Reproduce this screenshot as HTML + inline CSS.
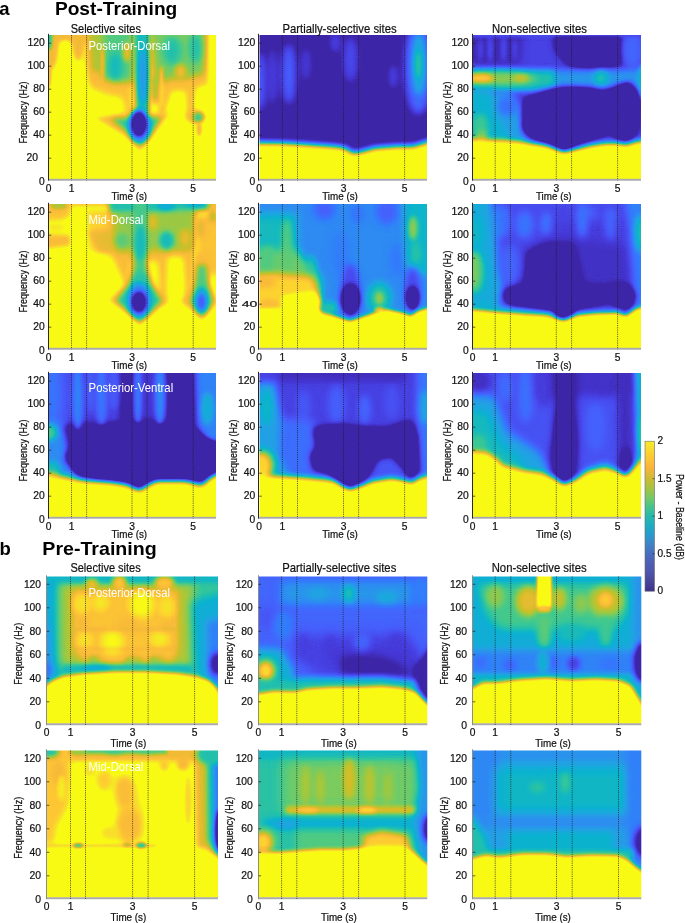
<!DOCTYPE html><html><head><meta charset="utf-8"><title>Figure</title>
<style>html,body{margin:0;padding:0;background:#fff}svg{display:block}text{font-family:"Liberation Sans",sans-serif;fill:#111;stroke:#111;stroke-width:0.22px}</style></head><body>
<svg width="685" height="923" viewBox="0 0 685 923">
<defs>
<filter id="cm" color-interpolation-filters="sRGB" filterUnits="userSpaceOnUse" x="0" y="0" width="685" height="923"><feComponentTransfer><feFuncR type="table" tableValues="0.243 0.243 0.243 0.243 0.243 0.243 0.243 0.243 0.243 0.243 0.243 0.243 0.243 0.243 0.243 0.243 0.243 0.257 0.271 0.276 0.282 0.276 0.271 0.235 0.200 0.186 0.173 0.149 0.125 0.082 0.039 0.084 0.129 0.194 0.259 0.351 0.443 0.545 0.647 0.735 0.824 0.902 0.980 0.988 0.996 0.978 0.961 0.969 0.976 0.976 0.976 0.976 0.976 0.976 0.976 0.976 0.976 0.976 0.976 0.976 0.976 0.976 0.976 0.976 0.976"/><feFuncG type="table" tableValues="0.149 0.149 0.149 0.149 0.149 0.149 0.149 0.149 0.149 0.149 0.149 0.149 0.149 0.149 0.149 0.149 0.149 0.182 0.216 0.257 0.298 0.341 0.384 0.431 0.478 0.522 0.565 0.604 0.643 0.671 0.698 0.725 0.753 0.771 0.788 0.794 0.800 0.792 0.784 0.765 0.745 0.737 0.729 0.776 0.824 0.867 0.910 0.947 0.984 0.984 0.984 0.984 0.984 0.984 0.984 0.984 0.984 0.984 0.984 0.984 0.984 0.984 0.984 0.984 0.984"/><feFuncB type="table" tableValues="0.659 0.659 0.659 0.659 0.659 0.659 0.659 0.659 0.659 0.659 0.659 0.659 0.659 0.659 0.659 0.659 0.659 0.747 0.835 0.888 0.941 0.965 0.988 0.990 0.992 0.965 0.937 0.914 0.890 0.851 0.812 0.749 0.686 0.622 0.557 0.480 0.404 0.320 0.235 0.196 0.157 0.192 0.227 0.206 0.184 0.167 0.149 0.116 0.082 0.082 0.082 0.082 0.082 0.082 0.082 0.082 0.082 0.082 0.082 0.082 0.082 0.082 0.082 0.082 0.082"/></feComponentTransfer></filter>
<linearGradient id="cb" x1="0" y1="0" x2="0" y2="1"><stop offset="0" stop-color="rgb(245,236,45)"/><stop offset="0.0625" stop-color="rgb(250,215,45)"/><stop offset="0.125" stop-color="rgb(252,195,55)"/><stop offset="0.175" stop-color="rgb(250,180,58)"/><stop offset="0.25" stop-color="rgb(205,187,50)"/><stop offset="0.3125" stop-color="rgb(165,195,65)"/><stop offset="0.375" stop-color="rgb(120,200,100)"/><stop offset="0.4375" stop-color="rgb(70,195,140)"/><stop offset="0.5" stop-color="rgb(40,185,170)"/><stop offset="0.5625" stop-color="rgb(30,172,195)"/><stop offset="0.625" stop-color="rgb(40,155,205)"/><stop offset="0.6875" stop-color="rgb(65,130,198)"/><stop offset="0.75" stop-color="rgb(72,110,190)"/><stop offset="0.8125" stop-color="rgb(78,95,180)"/><stop offset="0.875" stop-color="rgb(78,85,170)"/><stop offset="0.9375" stop-color="rgb(72,68,155)"/><stop offset="1" stop-color="rgb(62,50,140)"/></linearGradient>
<filter id="b6" x="-100%" y="-100%" width="300%" height="300%" color-interpolation-filters="sRGB"><feGaussianBlur stdDeviation="6"/></filter>
<filter id="b7" x="-100%" y="-100%" width="300%" height="300%" color-interpolation-filters="sRGB"><feGaussianBlur stdDeviation="7"/></filter>
<filter id="b8" x="-100%" y="-100%" width="300%" height="300%" color-interpolation-filters="sRGB"><feGaussianBlur stdDeviation="8"/></filter>
<filter id="b9" x="-100%" y="-100%" width="300%" height="300%" color-interpolation-filters="sRGB"><feGaussianBlur stdDeviation="9"/></filter>
<filter id="b10" x="-100%" y="-100%" width="300%" height="300%" color-interpolation-filters="sRGB"><feGaussianBlur stdDeviation="10"/></filter>
<filter id="b11" x="-100%" y="-100%" width="300%" height="300%" color-interpolation-filters="sRGB"><feGaussianBlur stdDeviation="11"/></filter>
<filter id="b12" x="-100%" y="-100%" width="300%" height="300%" color-interpolation-filters="sRGB"><feGaussianBlur stdDeviation="12"/></filter>
<filter id="b13" x="-100%" y="-100%" width="300%" height="300%" color-interpolation-filters="sRGB"><feGaussianBlur stdDeviation="13"/></filter>
<filter id="b14" x="-100%" y="-100%" width="300%" height="300%" color-interpolation-filters="sRGB"><feGaussianBlur stdDeviation="14"/></filter>
<filter id="b15" x="-100%" y="-100%" width="300%" height="300%" color-interpolation-filters="sRGB"><feGaussianBlur stdDeviation="15"/></filter>
<filter id="b16" x="-100%" y="-100%" width="300%" height="300%" color-interpolation-filters="sRGB"><feGaussianBlur stdDeviation="16"/></filter>
<filter id="b18" x="-100%" y="-100%" width="300%" height="300%" color-interpolation-filters="sRGB"><feGaussianBlur stdDeviation="18"/></filter>
<filter id="b20" x="-100%" y="-100%" width="300%" height="300%" color-interpolation-filters="sRGB"><feGaussianBlur stdDeviation="20"/></filter>
<filter id="b22" x="-100%" y="-100%" width="300%" height="300%" color-interpolation-filters="sRGB"><feGaussianBlur stdDeviation="22"/></filter>
<filter id="b24" x="-100%" y="-100%" width="300%" height="300%" color-interpolation-filters="sRGB"><feGaussianBlur stdDeviation="24"/></filter>
<filter id="cmz" color-interpolation-filters="sRGB" filterUnits="userSpaceOnUse" x="0" y="0" width="685" height="700"><feComponentTransfer><feFuncR type="table" tableValues="0.243 0.243 0.243 0.243 0.243 0.243 0.243 0.243 0.243 0.243 0.243 0.243 0.243 0.243 0.243 0.243 0.243 0.257 0.271 0.276 0.282 0.276 0.271 0.235 0.200 0.186 0.173 0.149 0.125 0.082 0.039 0.084 0.129 0.194 0.259 0.351 0.443 0.545 0.647 0.735 0.824 0.902 0.980 0.988 0.996 0.978 0.961 0.969 0.976 0.976 0.976 0.976 0.976 0.976 0.976 0.976 0.976 0.976 0.976 0.976 0.976 0.976 0.976 0.976 0.976"/><feFuncG type="table" tableValues="0.149 0.149 0.149 0.149 0.149 0.149 0.149 0.149 0.149 0.149 0.149 0.149 0.149 0.149 0.149 0.149 0.149 0.182 0.216 0.257 0.298 0.341 0.384 0.431 0.478 0.522 0.565 0.604 0.643 0.671 0.698 0.725 0.753 0.771 0.788 0.794 0.800 0.792 0.784 0.765 0.745 0.737 0.729 0.776 0.824 0.867 0.910 0.947 0.984 0.984 0.984 0.984 0.984 0.984 0.984 0.984 0.984 0.984 0.984 0.984 0.984 0.984 0.984 0.984 0.984"/><feFuncB type="table" tableValues="0.659 0.659 0.659 0.659 0.659 0.659 0.659 0.659 0.659 0.659 0.659 0.659 0.659 0.659 0.659 0.659 0.659 0.747 0.835 0.888 0.941 0.965 0.988 0.990 0.992 0.965 0.937 0.914 0.890 0.851 0.812 0.749 0.686 0.622 0.557 0.480 0.404 0.320 0.235 0.196 0.157 0.192 0.227 0.206 0.184 0.167 0.149 0.116 0.082 0.082 0.082 0.082 0.082 0.082 0.082 0.082 0.082 0.082 0.082 0.082 0.082 0.082 0.082 0.082 0.082"/></feComponentTransfer></filter>
</defs>
<svg x="49" y="35" width="167" height="144" viewBox="0 0 685 590.659" preserveAspectRatio="none" overflow="hidden">
<g filter="url(#cmz)">
<rect x="-50" y="-50" width="785" height="690.659" fill="#cfcfcf"/>
<rect x="-20" y="-40" width="190" height="70" fill="#a6a6a6" filter="url(#b9)"/>
<ellipse cx="8" cy="30" rx="38" ry="115" fill="#a6a6a6" filter="url(#b11)"/>
<ellipse cx="0" cy="0" rx="13" ry="62" fill="#808080" filter="url(#b7)"/>
<ellipse cx="-2" cy="150" rx="16" ry="75" fill="#a6a6a6" filter="url(#b7)"/>
<ellipse cx="120" cy="25" rx="32" ry="85" fill="#a6a6a6" filter="url(#b11)"/>
<ellipse cx="66" cy="85" rx="19" ry="58" fill="#d2d2d2" filter="url(#b8)"/>
<polygon points="148,-30 345,-30 345,330 312,330 296,262 240,252 166,222 146,120" fill="#aaaaaa" filter="url(#b14)"/>
<polygon points="162,-30 345,-30 345,200 250,190 175,155" fill="#999999" filter="url(#b14)"/>
<polygon points="225,-30 335,-30 335,185 225,175" fill="#8a8a8a" filter="url(#b14)"/>
<ellipse cx="272" cy="130" rx="28" ry="58" fill="#7c7c7c" filter="url(#b13)"/>
<ellipse cx="219" cy="120" rx="8" ry="78" fill="#adadad" filter="url(#b6)" opacity="0.85"/>
<ellipse cx="320" cy="70" rx="14" ry="40" fill="#aaaaaa" filter="url(#b8)" opacity="0.9"/>
<ellipse cx="190" cy="175" rx="25" ry="30" fill="#a8a8a8" filter="url(#b10)" opacity="0.8"/>
<polygon points="420,-30 658,-30 655,205 607,222 594,340 564,340 556,235 507,235 492,280 476,332 448,332 438,245 420,310" fill="#aaaaaa" filter="url(#b12)"/>
<polygon points="418,-30 642,-30 636,160 560,178 500,178 440,208" fill="#919191" filter="url(#b14)"/>
<ellipse cx="505" cy="65" rx="38" ry="58" fill="#808080" filter="url(#b15)"/>
<ellipse cx="600" cy="55" rx="25" ry="62" fill="#808080" filter="url(#b13)"/>
<ellipse cx="540" cy="150" rx="24" ry="28" fill="#a6a6a6" filter="url(#b10)"/>
<ellipse cx="461" cy="215" rx="9" ry="88" fill="#b2b2b2" filter="url(#b6)" opacity="0.9"/>
<ellipse cx="436" cy="230" rx="10" ry="60" fill="#8f8f8f" filter="url(#b8)" opacity="0.8"/>
<polygon points="346,-30 418,-30 412,330 356,330" fill="#7c7c7c" filter="url(#b12)"/>
<ellipse cx="385" cy="170" rx="17" ry="110" fill="#6b6b6b" filter="url(#b12)"/>
<polygon points="180,338 290,318 500,318 440,400 375,482 310,416" fill="#a8a8a8" filter="url(#b10)"/>
<polygon points="255,345 460,338 412,410 375,452 328,400" fill="#858585" filter="url(#b10)"/>
<ellipse cx="371" cy="372" rx="46" ry="70" fill="#666666" filter="url(#b11)"/>
<ellipse cx="369" cy="365" rx="27" ry="48" fill="#131313" filter="url(#b10)"/>
<ellipse cx="600" cy="335" rx="44" ry="32" fill="#a8a8a8" filter="url(#b10)"/>
<ellipse cx="612" cy="338" rx="21" ry="21" fill="#868686" filter="url(#b8)"/>
<ellipse cx="616" cy="388" rx="14" ry="30" fill="#a6a6a6" filter="url(#b7)"/>
</g></svg>
<rect x="48.5" y="178.8" width="167.5" height="1.9" fill="#a9a9ad"/>
<line x1="71.5" y1="35" x2="71.5" y2="180.5" stroke="#1a1a1a" stroke-width="0.7" stroke-dasharray="1.1 1.1"/>
<line x1="86.6" y1="35" x2="86.6" y2="180.5" stroke="#1a1a1a" stroke-width="0.7" stroke-dasharray="1.1 1.1"/>
<line x1="132" y1="35" x2="132" y2="180.5" stroke="#1a1a1a" stroke-width="0.7" stroke-dasharray="1.1 1.1"/>
<line x1="147.1" y1="35" x2="147.1" y2="180.5" stroke="#1a1a1a" stroke-width="0.7" stroke-dasharray="1.1 1.1"/>
<line x1="193.2" y1="35" x2="193.2" y2="180.5" stroke="#1a1a1a" stroke-width="0.7" stroke-dasharray="1.1 1.1"/>
<rect x="48" y="33.8" width="1" height="146.9" fill="#2a2628"/>
<text x="44.8" y="185.009" font-size="10.2" text-anchor="end" textLength="5.7" lengthAdjust="spacingAndGlyphs">0</text>
<line x1="48.7" y1="158.2" x2="51.3" y2="158.2" stroke="#231f20" stroke-width="0.7"/>
<text x="38" y="161.409" font-size="10.2" text-anchor="end" textLength="11.5" lengthAdjust="spacingAndGlyphs">20</text>
<line x1="48.7" y1="135.2" x2="51.3" y2="135.2" stroke="#231f20" stroke-width="0.7"/>
<text x="44.8" y="138.409" font-size="10.2" text-anchor="end" textLength="11.5" lengthAdjust="spacingAndGlyphs">40</text>
<line x1="48.7" y1="112.2" x2="51.3" y2="112.2" stroke="#231f20" stroke-width="0.7"/>
<text x="44.8" y="115.409" font-size="10.2" text-anchor="end" textLength="11.5" lengthAdjust="spacingAndGlyphs">60</text>
<line x1="48.7" y1="89.2" x2="51.3" y2="89.2" stroke="#231f20" stroke-width="0.7"/>
<text x="44.8" y="92.4088" font-size="10.2" text-anchor="end" textLength="11.5" lengthAdjust="spacingAndGlyphs">80</text>
<line x1="48.7" y1="66.2" x2="51.3" y2="66.2" stroke="#231f20" stroke-width="0.7"/>
<text x="44.8" y="69.4088" font-size="10.2" text-anchor="end" textLength="17.4" lengthAdjust="spacingAndGlyphs">100</text>
<line x1="48.7" y1="43.2" x2="51.3" y2="43.2" stroke="#231f20" stroke-width="0.7"/>
<text x="44.8" y="46.4088" font-size="10.2" text-anchor="end" textLength="17.4" lengthAdjust="spacingAndGlyphs">120</text>
<text x="48.5" y="191.8" font-size="10.2" text-anchor="middle" textLength="5.7" lengthAdjust="spacingAndGlyphs">0</text>
<text x="71.5" y="191.8" font-size="10.2" text-anchor="middle" textLength="5.7" lengthAdjust="spacingAndGlyphs">1</text>
<text x="132" y="191.8" font-size="10.2" text-anchor="middle" textLength="5.7" lengthAdjust="spacingAndGlyphs">3</text>
<text x="193.2" y="191.8" font-size="10.2" text-anchor="middle" textLength="5.7" lengthAdjust="spacingAndGlyphs">5</text>
<text x="129.3" y="200.2" font-size="10.8" text-anchor="middle" textLength="35.7" lengthAdjust="spacingAndGlyphs">Time (s)</text>
<text transform="translate(26.6,112.6) rotate(-90)" font-size="10.8" text-anchor="middle" textLength="62" lengthAdjust="spacingAndGlyphs">Frequency (Hz)</text>
<svg x="259.5" y="35" width="167.5" height="144" viewBox="0 0 685 588.896" preserveAspectRatio="none" overflow="hidden">
<g filter="url(#cmz)">
<rect x="-50" y="-50" width="785" height="688.896" fill="#3c3c3c"/>
<ellipse cx="0" cy="190" rx="30" ry="120" fill="#555555" filter="url(#b18)"/>
<ellipse cx="55" cy="170" rx="20" ry="120" fill="#4c4c4c" filter="url(#b16)"/>
<ellipse cx="120" cy="160" rx="28" ry="125" fill="#595959" filter="url(#b18)"/>
<ellipse cx="190" cy="120" rx="24" ry="70" fill="#494949" filter="url(#b16)"/>
<ellipse cx="372" cy="100" rx="30" ry="95" fill="#505050" filter="url(#b18)"/>
<ellipse cx="310" cy="30" rx="24" ry="45" fill="#4b4b4b" filter="url(#b14)"/>
<ellipse cx="548" cy="170" rx="20" ry="50" fill="#4c4c4c" filter="url(#b14)"/>
<ellipse cx="650" cy="130" rx="56" ry="195" fill="#5c5c5c" filter="url(#b18)"/>
<ellipse cx="652" cy="120" rx="27" ry="125" fill="#757575" filter="url(#b14)"/>
<ellipse cx="650" cy="120" rx="12" ry="60" fill="#858585" filter="url(#b10)"/>
<polygon points="-40,441 100,443 200,449 300,456 345,461 385,485 420,477 470,463 560,456 630,456 660,446 725,428 725,700 -40,700" fill="#cccccc" filter="url(#b12)"/>
</g></svg>
<rect x="259" y="178.8" width="168" height="1.9" fill="#a9a9ad"/>
<line x1="282.4" y1="35" x2="282.4" y2="180.5" stroke="#1a1a1a" stroke-width="0.7" stroke-dasharray="1.1 1.1"/>
<line x1="297.5" y1="35" x2="297.5" y2="180.5" stroke="#1a1a1a" stroke-width="0.7" stroke-dasharray="1.1 1.1"/>
<line x1="343.5" y1="35" x2="343.5" y2="180.5" stroke="#1a1a1a" stroke-width="0.7" stroke-dasharray="1.1 1.1"/>
<line x1="358.6" y1="35" x2="358.6" y2="180.5" stroke="#1a1a1a" stroke-width="0.7" stroke-dasharray="1.1 1.1"/>
<line x1="404.6" y1="35" x2="404.6" y2="180.5" stroke="#1a1a1a" stroke-width="0.7" stroke-dasharray="1.1 1.1"/>
<rect x="258" y="33.8" width="1" height="146.9" fill="#2a2628"/>
<text x="255.3" y="185.009" font-size="10.2" text-anchor="end" textLength="5.7" lengthAdjust="spacingAndGlyphs">0</text>
<line x1="259.2" y1="158.2" x2="261.8" y2="158.2" stroke="#231f20" stroke-width="0.7"/>
<text x="255.3" y="161.409" font-size="10.2" text-anchor="end" textLength="11.5" lengthAdjust="spacingAndGlyphs">20</text>
<line x1="259.2" y1="135.2" x2="261.8" y2="135.2" stroke="#231f20" stroke-width="0.7"/>
<text x="255.3" y="138.409" font-size="10.2" text-anchor="end" textLength="11.5" lengthAdjust="spacingAndGlyphs">40</text>
<line x1="259.2" y1="112.2" x2="261.8" y2="112.2" stroke="#231f20" stroke-width="0.7"/>
<text x="255.3" y="115.409" font-size="10.2" text-anchor="end" textLength="11.5" lengthAdjust="spacingAndGlyphs">60</text>
<line x1="259.2" y1="89.2" x2="261.8" y2="89.2" stroke="#231f20" stroke-width="0.7"/>
<text x="255.3" y="92.4088" font-size="10.2" text-anchor="end" textLength="11.5" lengthAdjust="spacingAndGlyphs">80</text>
<line x1="259.2" y1="66.2" x2="261.8" y2="66.2" stroke="#231f20" stroke-width="0.7"/>
<text x="255.3" y="69.4088" font-size="10.2" text-anchor="end" textLength="17.4" lengthAdjust="spacingAndGlyphs">100</text>
<line x1="259.2" y1="43.2" x2="261.8" y2="43.2" stroke="#231f20" stroke-width="0.7"/>
<text x="255.3" y="46.4088" font-size="10.2" text-anchor="end" textLength="17.4" lengthAdjust="spacingAndGlyphs">120</text>
<text x="259" y="191.8" font-size="10.2" text-anchor="middle" textLength="5.7" lengthAdjust="spacingAndGlyphs">0</text>
<text x="282.4" y="191.8" font-size="10.2" text-anchor="middle" textLength="5.7" lengthAdjust="spacingAndGlyphs">1</text>
<text x="343.5" y="191.8" font-size="10.2" text-anchor="middle" textLength="5.7" lengthAdjust="spacingAndGlyphs">3</text>
<text x="404.6" y="191.8" font-size="10.2" text-anchor="middle" textLength="5.7" lengthAdjust="spacingAndGlyphs">5</text>
<text x="340.05" y="200.2" font-size="10.8" text-anchor="middle" textLength="35.7" lengthAdjust="spacingAndGlyphs">Time (s)</text>
<text transform="translate(237.1,112.6) rotate(-90)" font-size="10.8" text-anchor="middle" textLength="62" lengthAdjust="spacingAndGlyphs">Frequency (Hz)</text>
<svg x="473" y="35" width="168" height="144" viewBox="0 0 685 587.143" preserveAspectRatio="none" overflow="hidden">
<g filter="url(#cmz)">
<rect x="-50" y="-50" width="785" height="687.143" fill="#4c4c4c"/>
<polygon points="-30,-30 205,-30 195,115 -30,120" fill="#424242" filter="url(#b16)"/>
<polygon points="335,-30 600,-30 600,122 470,137 400,127 340,60" fill="#202020" filter="url(#b16)"/>
<ellipse cx="70" cy="55" rx="9" ry="55" fill="#535353" filter="url(#b8)"/>
<ellipse cx="125" cy="55" rx="9" ry="55" fill="#535353" filter="url(#b8)"/>
<ellipse cx="30" cy="60" rx="9" ry="45" fill="#4f4f4f" filter="url(#b8)"/>
<ellipse cx="170" cy="60" rx="9" ry="45" fill="#4f4f4f" filter="url(#b8)"/>
<ellipse cx="650" cy="60" rx="40" ry="80" fill="#595959" filter="url(#b14)"/>
<rect x="-40" y="-40" width="770" height="50" fill="#505050" filter="url(#b7)"/>
<rect x="-40" y="142" width="760" height="72" fill="#6a6a6a" filter="url(#b14)"/>
<polygon points="-40,140 330,148 340,205 250,225 -40,235" fill="#808080" filter="url(#b14)"/>
<ellipse cx="110" cy="178" rx="150" ry="26" fill="#949494" filter="url(#b14)"/>
<ellipse cx="30" cy="176" rx="52" ry="16" fill="#b0b0b0" filter="url(#b10)"/>
<ellipse cx="195" cy="176" rx="30" ry="14" fill="#9e9e9e" filter="url(#b9)"/>
<ellipse cx="522" cy="176" rx="30" ry="30" fill="#808080" filter="url(#b12)"/>
<ellipse cx="690" cy="190" rx="18" ry="70" fill="#797979" filter="url(#b10)"/>
<polygon points="-40,225 150,230 190,300 215,420 215,470 -40,470" fill="#6e6e6e" filter="url(#b18)"/>
<polygon points="-40,225 75,232 95,330 150,420 150,470 -40,470" fill="#777777" filter="url(#b14)"/>
<ellipse cx="30" cy="380" rx="34" ry="60" fill="#868686" filter="url(#b14)"/>
<ellipse cx="35" cy="410" rx="20" ry="25" fill="#919191" filter="url(#b10)"/>
<ellipse cx="140" cy="290" rx="40" ry="40" fill="#5c5c5c" filter="url(#b14)"/>
<polygon points="215,262 260,250 340,222 400,217 480,222 520,235 560,228 600,205 640,195 672,250 668,380 640,425 600,425 560,392 540,400 420,445 370,480 330,455 260,425 205,385" fill="#0d0d0d" filter="url(#b13)"/>
<polygon points="-40,428 100,433 200,438 300,453 340,468 370,479 420,468 480,453 540,443 590,443 625,451 655,439 725,426 725,700 -40,700" fill="#d9d9d9" filter="url(#b12)"/>
</g></svg>
<rect x="472.5" y="178.8" width="168.5" height="1.9" fill="#a9a9ad"/>
<line x1="495.2" y1="35" x2="495.2" y2="180.5" stroke="#1a1a1a" stroke-width="0.7" stroke-dasharray="1.1 1.1"/>
<line x1="510.4" y1="35" x2="510.4" y2="180.5" stroke="#1a1a1a" stroke-width="0.7" stroke-dasharray="1.1 1.1"/>
<line x1="556.3" y1="35" x2="556.3" y2="180.5" stroke="#1a1a1a" stroke-width="0.7" stroke-dasharray="1.1 1.1"/>
<line x1="571.6" y1="35" x2="571.6" y2="180.5" stroke="#1a1a1a" stroke-width="0.7" stroke-dasharray="1.1 1.1"/>
<line x1="617.6" y1="35" x2="617.6" y2="180.5" stroke="#1a1a1a" stroke-width="0.7" stroke-dasharray="1.1 1.1"/>
<rect x="472" y="33.8" width="1" height="146.9" fill="#2a2628"/>
<text x="468.8" y="185.009" font-size="10.2" text-anchor="end" textLength="5.7" lengthAdjust="spacingAndGlyphs">0</text>
<line x1="472.7" y1="158.2" x2="475.3" y2="158.2" stroke="#231f20" stroke-width="0.7"/>
<text x="468.8" y="161.409" font-size="10.2" text-anchor="end" textLength="11.5" lengthAdjust="spacingAndGlyphs">20</text>
<line x1="472.7" y1="135.2" x2="475.3" y2="135.2" stroke="#231f20" stroke-width="0.7"/>
<text x="468.8" y="138.409" font-size="10.2" text-anchor="end" textLength="11.5" lengthAdjust="spacingAndGlyphs">40</text>
<line x1="472.7" y1="112.2" x2="475.3" y2="112.2" stroke="#231f20" stroke-width="0.7"/>
<text x="468.8" y="115.409" font-size="10.2" text-anchor="end" textLength="11.5" lengthAdjust="spacingAndGlyphs">60</text>
<line x1="472.7" y1="89.2" x2="475.3" y2="89.2" stroke="#231f20" stroke-width="0.7"/>
<text x="468.8" y="92.4088" font-size="10.2" text-anchor="end" textLength="11.5" lengthAdjust="spacingAndGlyphs">80</text>
<line x1="472.7" y1="66.2" x2="475.3" y2="66.2" stroke="#231f20" stroke-width="0.7"/>
<text x="468.8" y="69.4088" font-size="10.2" text-anchor="end" textLength="17.4" lengthAdjust="spacingAndGlyphs">100</text>
<line x1="472.7" y1="43.2" x2="475.3" y2="43.2" stroke="#231f20" stroke-width="0.7"/>
<text x="468.8" y="46.4088" font-size="10.2" text-anchor="end" textLength="17.4" lengthAdjust="spacingAndGlyphs">120</text>
<text x="472.5" y="191.8" font-size="10.2" text-anchor="middle" textLength="5.7" lengthAdjust="spacingAndGlyphs">0</text>
<text x="495.2" y="191.8" font-size="10.2" text-anchor="middle" textLength="5.7" lengthAdjust="spacingAndGlyphs">1</text>
<text x="556.3" y="191.8" font-size="10.2" text-anchor="middle" textLength="5.7" lengthAdjust="spacingAndGlyphs">3</text>
<text x="617.6" y="191.8" font-size="10.2" text-anchor="middle" textLength="5.7" lengthAdjust="spacingAndGlyphs">5</text>
<text x="553.8" y="200.2" font-size="10.8" text-anchor="middle" textLength="35.7" lengthAdjust="spacingAndGlyphs">Time (s)</text>
<text transform="translate(450.6,112.6) rotate(-90)" font-size="10.8" text-anchor="middle" textLength="62" lengthAdjust="spacingAndGlyphs">Frequency (Hz)</text>
<svg x="49" y="204" width="167" height="144" viewBox="0 0 685 590.659" preserveAspectRatio="none" overflow="hidden">
<g filter="url(#cmz)">
<rect x="-50" y="-50" width="785" height="690.659" fill="#cfcfcf"/>
<polygon points="-40,-40 95,-40 92,50 60,70 -40,75" fill="#ababab" filter="url(#b12)"/>
<ellipse cx="40" cy="5" rx="35" ry="16" fill="#969696" filter="url(#b9)"/>
<ellipse cx="30" cy="95" rx="45" ry="20" fill="#b6b6b6" filter="url(#b12)"/>
<polygon points="-40,118 90,122 100,150 88,175 -40,192" fill="#a8a8a8" filter="url(#b11)"/>
<rect x="85" y="-40" width="190" height="52" fill="#a8a8a8" filter="url(#b10)"/>
<ellipse cx="120" cy="125" rx="26" ry="95" fill="#cfcfcf" filter="url(#b10)"/>
<polygon points="150,20 270,20 270,215 230,210 160,195" fill="#afafaf" filter="url(#b13)"/>
<polygon points="160,112 270,103 270,205 200,195" fill="#a4a4a4" filter="url(#b11)"/>
<polygon points="245,-40 725,-40 725,40 610,40 600,215 588,410 558,410 545,222 492,222 486,410 452,410 440,240 400,238 338,242 328,360 298,312 254,220" fill="#a8a8a8" filter="url(#b13)"/>
<polygon points="262,60 285,-40 600,-40 600,60 592,185 420,192 272,195" fill="#969696" filter="url(#b15)"/>
<polygon points="240,-40 660,-40 650,22 250,35" fill="#808080" filter="url(#b10)"/>
<ellipse cx="480" cy="8" rx="38" ry="18" fill="#747474" filter="url(#b9)"/>
<ellipse cx="600" cy="0" rx="45" ry="12" fill="#757575" filter="url(#b8)"/>
<ellipse cx="482" cy="150" rx="30" ry="38" fill="#7c7c7c" filter="url(#b12)"/>
<ellipse cx="300" cy="150" rx="30" ry="32" fill="#8c8c8c" filter="url(#b12)"/>
<ellipse cx="425" cy="75" rx="20" ry="32" fill="#a3a3a3" filter="url(#b10)"/>
<ellipse cx="560" cy="140" rx="27" ry="38" fill="#a3a3a3" filter="url(#b11)"/>
<ellipse cx="330" cy="60" rx="25" ry="25" fill="#8f8f8f" filter="url(#b11)"/>
<polygon points="602,45 725,35 725,300 602,290" fill="#ababab" filter="url(#b13)"/>
<ellipse cx="622" cy="100" rx="20" ry="38" fill="#a3a3a3" filter="url(#b10)"/>
<ellipse cx="672" cy="50" rx="18" ry="25" fill="#9c9c9c" filter="url(#b9)"/>
<polygon points="336,240 409,240 434,325 492,398 436,446 372,500 312,446 240,395 310,325" fill="#a8a8a8" filter="url(#b12)"/>
<polygon points="347,-40 402,-40 400,350 350,350" fill="#888888" filter="url(#b10)"/>
<ellipse cx="375" cy="160" rx="22" ry="70" fill="#7c7c7c" filter="url(#b12)"/>
<polygon points="352,280 395,280 420,335 462,398 425,434 372,484 320,436 276,396 326,335" fill="#828282" filter="url(#b11)"/>
<ellipse cx="370" cy="395" rx="45" ry="70" fill="#636363" filter="url(#b12)"/>
<ellipse cx="369" cy="402" rx="26" ry="40" fill="#1a1a1a" filter="url(#b10)"/>
<polygon points="603,200 652,200 664,330 698,400 662,444 626,480 590,444 536,400 588,330" fill="#a8a8a8" filter="url(#b11)"/>
<polygon points="610,250 644,250 657,355 672,400 652,432 626,462 600,432 578,400 596,355" fill="#8a8a8a" filter="url(#b10)"/>
<ellipse cx="626" cy="395" rx="26" ry="52" fill="#6e6e6e" filter="url(#b10)"/>
<ellipse cx="625" cy="402" rx="17" ry="32" fill="#555555" filter="url(#b8)"/>
</g></svg>
<rect x="48.5" y="347.8" width="167.5" height="1.9" fill="#a9a9ad"/>
<line x1="71.5" y1="204" x2="71.5" y2="349.5" stroke="#1a1a1a" stroke-width="0.7" stroke-dasharray="1.1 1.1"/>
<line x1="86.6" y1="204" x2="86.6" y2="349.5" stroke="#1a1a1a" stroke-width="0.7" stroke-dasharray="1.1 1.1"/>
<line x1="132" y1="204" x2="132" y2="349.5" stroke="#1a1a1a" stroke-width="0.7" stroke-dasharray="1.1 1.1"/>
<line x1="147.1" y1="204" x2="147.1" y2="349.5" stroke="#1a1a1a" stroke-width="0.7" stroke-dasharray="1.1 1.1"/>
<line x1="193.2" y1="204" x2="193.2" y2="349.5" stroke="#1a1a1a" stroke-width="0.7" stroke-dasharray="1.1 1.1"/>
<rect x="48" y="202.8" width="1" height="146.9" fill="#2a2628"/>
<text x="44.8" y="354.009" font-size="10.2" text-anchor="end" textLength="5.7" lengthAdjust="spacingAndGlyphs">0</text>
<line x1="48.7" y1="327.2" x2="51.3" y2="327.2" stroke="#231f20" stroke-width="0.7"/>
<text x="44.8" y="330.409" font-size="10.2" text-anchor="end" textLength="11.5" lengthAdjust="spacingAndGlyphs">20</text>
<line x1="48.7" y1="304.2" x2="51.3" y2="304.2" stroke="#231f20" stroke-width="0.7"/>
<text x="44.8" y="307.409" font-size="10.2" text-anchor="end" textLength="11.5" lengthAdjust="spacingAndGlyphs">40</text>
<line x1="48.7" y1="281.2" x2="51.3" y2="281.2" stroke="#231f20" stroke-width="0.7"/>
<text x="44.8" y="284.409" font-size="10.2" text-anchor="end" textLength="11.5" lengthAdjust="spacingAndGlyphs">60</text>
<line x1="48.7" y1="258.2" x2="51.3" y2="258.2" stroke="#231f20" stroke-width="0.7"/>
<text x="44.8" y="261.409" font-size="10.2" text-anchor="end" textLength="11.5" lengthAdjust="spacingAndGlyphs">80</text>
<line x1="48.7" y1="235.2" x2="51.3" y2="235.2" stroke="#231f20" stroke-width="0.7"/>
<text x="44.8" y="238.409" font-size="10.2" text-anchor="end" textLength="17.4" lengthAdjust="spacingAndGlyphs">100</text>
<line x1="48.7" y1="212.2" x2="51.3" y2="212.2" stroke="#231f20" stroke-width="0.7"/>
<text x="44.8" y="215.409" font-size="10.2" text-anchor="end" textLength="17.4" lengthAdjust="spacingAndGlyphs">120</text>
<text x="48.5" y="360.8" font-size="10.2" text-anchor="middle" textLength="5.7" lengthAdjust="spacingAndGlyphs">0</text>
<text x="71.5" y="360.8" font-size="10.2" text-anchor="middle" textLength="5.7" lengthAdjust="spacingAndGlyphs">1</text>
<text x="132" y="360.8" font-size="10.2" text-anchor="middle" textLength="5.7" lengthAdjust="spacingAndGlyphs">3</text>
<text x="193.2" y="360.8" font-size="10.2" text-anchor="middle" textLength="5.7" lengthAdjust="spacingAndGlyphs">5</text>
<text x="129.3" y="369.2" font-size="10.8" text-anchor="middle" textLength="35.7" lengthAdjust="spacingAndGlyphs">Time (s)</text>
<text transform="translate(26.6,281.6) rotate(-90)" font-size="10.8" text-anchor="middle" textLength="62" lengthAdjust="spacingAndGlyphs">Frequency (Hz)</text>
<svg x="259.5" y="204" width="167.5" height="144" viewBox="0 0 685 588.896" preserveAspectRatio="none" overflow="hidden">
<g filter="url(#cmz)">
<rect x="-50" y="-50" width="785" height="688.896" fill="#666666"/>
<ellipse cx="265" cy="20" rx="45" ry="45" fill="#585858" filter="url(#b16)"/>
<ellipse cx="520" cy="30" rx="45" ry="55" fill="#585858" filter="url(#b16)"/>
<ellipse cx="400" cy="40" rx="30" ry="40" fill="#5e5e5e" filter="url(#b14)"/>
<ellipse cx="330" cy="200" rx="40" ry="90" fill="#616161" filter="url(#b18)"/>
<ellipse cx="560" cy="230" rx="30" ry="70" fill="#606060" filter="url(#b16)"/>
<polygon points="-40,40 150,40 160,260 260,300 250,470 -40,470" fill="#7c7c7c" filter="url(#b18)"/>
<polygon points="-40,190 140,180 230,270 240,340 -40,340" fill="#8f8f8f" filter="url(#b18)"/>
<ellipse cx="112" cy="170" rx="20" ry="110" fill="#8c8c8c" filter="url(#b13)"/>
<ellipse cx="30" cy="230" rx="30" ry="60" fill="#8a8a8a" filter="url(#b14)"/>
<ellipse cx="212" cy="270" rx="16" ry="60" fill="#858585" filter="url(#b12)"/>
<polygon points="590,-40 725,-40 725,300 670,290 600,250" fill="#797979" filter="url(#b16)"/>
<ellipse cx="628" cy="100" rx="18" ry="50" fill="#969696" filter="url(#b11)"/>
<ellipse cx="640" cy="200" rx="20" ry="50" fill="#828282" filter="url(#b12)"/>
<polygon points="-40,292 60,284 130,292 215,296 242,350 250,470 -40,470" fill="#b0b0b0" filter="url(#b16)"/>
<ellipse cx="20" cy="320" rx="50" ry="22" fill="#a6a6a6" filter="url(#b12)"/>
<polygon points="95,380 150,372 225,362 245,395 248,470 95,470" fill="#d9d9d9" filter="url(#b11)"/>
<ellipse cx="40" cy="408" rx="45" ry="18" fill="#a8a8a8" filter="url(#b9)"/>
<polygon points="-40,436 90,432 90,470 -40,470" fill="#d9d9d9" filter="url(#b8)"/>
<ellipse cx="490" cy="385" rx="50" ry="66" fill="#808080" filter="url(#b15)"/>
<ellipse cx="490" cy="385" rx="18" ry="26" fill="#969696" filter="url(#b9)"/>
<ellipse cx="490" cy="432" rx="18" ry="10" fill="#a6a6a6" filter="url(#b7)"/>
<ellipse cx="285" cy="425" rx="36" ry="28" fill="#808080" filter="url(#b11)"/>
<ellipse cx="372" cy="345" rx="38" ry="100" fill="#4f4f4f" filter="url(#b14)"/>
<ellipse cx="372" cy="392" rx="34" ry="58" fill="#0d0d0d" filter="url(#b12)"/>
<ellipse cx="626" cy="345" rx="32" ry="85" fill="#4f4f4f" filter="url(#b13)"/>
<ellipse cx="626" cy="385" rx="24" ry="45" fill="#1a1a1a" filter="url(#b11)"/>
<polygon points="-40,444 245,446 300,458 340,471 370,482 420,464 480,444 520,434 580,446 620,460 650,439 725,418 725,700 -40,700" fill="#d9d9d9" filter="url(#b9)"/>
</g></svg>
<rect x="259" y="347.8" width="168" height="1.9" fill="#a9a9ad"/>
<line x1="282.4" y1="204" x2="282.4" y2="349.5" stroke="#1a1a1a" stroke-width="0.7" stroke-dasharray="1.1 1.1"/>
<line x1="297.5" y1="204" x2="297.5" y2="349.5" stroke="#1a1a1a" stroke-width="0.7" stroke-dasharray="1.1 1.1"/>
<line x1="343.5" y1="204" x2="343.5" y2="349.5" stroke="#1a1a1a" stroke-width="0.7" stroke-dasharray="1.1 1.1"/>
<line x1="358.6" y1="204" x2="358.6" y2="349.5" stroke="#1a1a1a" stroke-width="0.7" stroke-dasharray="1.1 1.1"/>
<line x1="404.6" y1="204" x2="404.6" y2="349.5" stroke="#1a1a1a" stroke-width="0.7" stroke-dasharray="1.1 1.1"/>
<rect x="258" y="202.8" width="1" height="146.9" fill="#2a2628"/>
<text x="255.3" y="354.009" font-size="10.2" text-anchor="end" textLength="5.7" lengthAdjust="spacingAndGlyphs">0</text>
<line x1="259.2" y1="327.2" x2="261.8" y2="327.2" stroke="#231f20" stroke-width="0.7"/>
<text x="255.3" y="330.409" font-size="10.2" text-anchor="end" textLength="11.5" lengthAdjust="spacingAndGlyphs">20</text>
<line x1="259.2" y1="304.2" x2="261.8" y2="304.2" stroke="#231f20" stroke-width="0.7"/>
<text x="257.3" y="307.1" font-size="8.3" text-anchor="end" textLength="15.6" lengthAdjust="spacingAndGlyphs" style="stroke-width:0.2px">40</text>
<line x1="259.2" y1="281.2" x2="261.8" y2="281.2" stroke="#231f20" stroke-width="0.7"/>
<text x="255.3" y="284.409" font-size="10.2" text-anchor="end" textLength="11.5" lengthAdjust="spacingAndGlyphs">60</text>
<line x1="259.2" y1="258.2" x2="261.8" y2="258.2" stroke="#231f20" stroke-width="0.7"/>
<text x="255.3" y="261.409" font-size="10.2" text-anchor="end" textLength="11.5" lengthAdjust="spacingAndGlyphs">80</text>
<line x1="259.2" y1="235.2" x2="261.8" y2="235.2" stroke="#231f20" stroke-width="0.7"/>
<text x="255.3" y="238.409" font-size="10.2" text-anchor="end" textLength="17.4" lengthAdjust="spacingAndGlyphs">100</text>
<line x1="259.2" y1="212.2" x2="261.8" y2="212.2" stroke="#231f20" stroke-width="0.7"/>
<text x="255.3" y="215.409" font-size="10.2" text-anchor="end" textLength="17.4" lengthAdjust="spacingAndGlyphs">120</text>
<text x="259" y="360.8" font-size="10.2" text-anchor="middle" textLength="5.7" lengthAdjust="spacingAndGlyphs">0</text>
<text x="282.4" y="360.8" font-size="10.2" text-anchor="middle" textLength="5.7" lengthAdjust="spacingAndGlyphs">1</text>
<text x="343.5" y="360.8" font-size="10.2" text-anchor="middle" textLength="5.7" lengthAdjust="spacingAndGlyphs">3</text>
<text x="404.6" y="360.8" font-size="10.2" text-anchor="middle" textLength="5.7" lengthAdjust="spacingAndGlyphs">5</text>
<text x="340.05" y="369.2" font-size="10.8" text-anchor="middle" textLength="35.7" lengthAdjust="spacingAndGlyphs">Time (s)</text>
<text transform="translate(237.1,281.6) rotate(-90)" font-size="10.8" text-anchor="middle" textLength="62" lengthAdjust="spacingAndGlyphs">Frequency (Hz)</text>
<svg x="473" y="204" width="168" height="144" viewBox="0 0 685 587.143" preserveAspectRatio="none" overflow="hidden">
<g filter="url(#cmz)">
<rect x="-50" y="-50" width="785" height="687.143" fill="#505050"/>
<ellipse cx="210" cy="85" rx="35" ry="55" fill="#5e5e5e" filter="url(#b16)"/>
<ellipse cx="300" cy="85" rx="25" ry="50" fill="#5e5e5e" filter="url(#b14)"/>
<ellipse cx="470" cy="60" rx="35" ry="55" fill="#595959" filter="url(#b16)"/>
<ellipse cx="110" cy="70" rx="40" ry="70" fill="#5e5e5e" filter="url(#b16)"/>
<ellipse cx="560" cy="80" rx="30" ry="60" fill="#575757" filter="url(#b14)"/>
<polygon points="-40,-40 70,-40 100,200 120,330 100,470 -40,470" fill="#737373" filter="url(#b18)"/>
<ellipse cx="10" cy="280" rx="36" ry="90" fill="#868686" filter="url(#b16)"/>
<ellipse cx="3" cy="270" rx="26" ry="75" fill="#919191" filter="url(#b13)"/>
<ellipse cx="15" cy="120" rx="25" ry="70" fill="#7a7a7a" filter="url(#b14)"/>
<ellipse cx="40" cy="420" rx="40" ry="25" fill="#797979" filter="url(#b12)"/>
<polygon points="625,-40 725,-40 725,470 660,470 640,300" fill="#626262" filter="url(#b14)"/>
<ellipse cx="682" cy="120" rx="22" ry="75" fill="#808080" filter="url(#b12)"/>
<polygon points="330,60 620,60 630,150 330,150" fill="#4b4b4b" filter="url(#b20)"/>
<ellipse cx="445" cy="80" rx="22" ry="90" fill="#5e5e5e" filter="url(#b13)"/>
<ellipse cx="560" cy="90" rx="22" ry="70" fill="#595959" filter="url(#b13)"/>
<ellipse cx="370" cy="60" rx="20" ry="60" fill="#4c4c4c" filter="url(#b12)"/>
<polygon points="170,215 300,130 410,130 630,160 650,330 420,345 170,345" fill="#454545" filter="url(#b22)"/>
<polygon points="232,200 300,172 400,172 420,250 440,332 520,342 590,330 640,335 662,375 642,422 600,422 560,397 430,422 370,470 300,432 160,412 122,380 140,345 220,330" fill="#1a1a1a" filter="url(#b15)"/>
<polygon points="-40,395 100,418 330,440 330,480 -40,460" fill="#757575" filter="url(#b11)"/>
<polygon points="420,440 600,430 600,470 420,470" fill="#666666" filter="url(#b9)"/>
<ellipse cx="150" cy="250" rx="45" ry="80" fill="#595959" filter="url(#b18)"/>
<polygon points="-40,430 100,444 200,452 300,458 340,468 370,477 420,457 500,449 590,446 625,457 660,431 725,410 725,700 -40,700" fill="#d9d9d9" filter="url(#b10)"/>
</g></svg>
<rect x="472.5" y="347.8" width="168.5" height="1.9" fill="#a9a9ad"/>
<line x1="495.2" y1="204" x2="495.2" y2="349.5" stroke="#1a1a1a" stroke-width="0.7" stroke-dasharray="1.1 1.1"/>
<line x1="510.4" y1="204" x2="510.4" y2="349.5" stroke="#1a1a1a" stroke-width="0.7" stroke-dasharray="1.1 1.1"/>
<line x1="556.3" y1="204" x2="556.3" y2="349.5" stroke="#1a1a1a" stroke-width="0.7" stroke-dasharray="1.1 1.1"/>
<line x1="571.6" y1="204" x2="571.6" y2="349.5" stroke="#1a1a1a" stroke-width="0.7" stroke-dasharray="1.1 1.1"/>
<line x1="617.6" y1="204" x2="617.6" y2="349.5" stroke="#1a1a1a" stroke-width="0.7" stroke-dasharray="1.1 1.1"/>
<rect x="472" y="202.8" width="1" height="146.9" fill="#2a2628"/>
<text x="468.8" y="354.009" font-size="10.2" text-anchor="end" textLength="5.7" lengthAdjust="spacingAndGlyphs">0</text>
<line x1="472.7" y1="327.2" x2="475.3" y2="327.2" stroke="#231f20" stroke-width="0.7"/>
<text x="468.8" y="330.409" font-size="10.2" text-anchor="end" textLength="11.5" lengthAdjust="spacingAndGlyphs">20</text>
<line x1="472.7" y1="304.2" x2="475.3" y2="304.2" stroke="#231f20" stroke-width="0.7"/>
<text x="468.8" y="307.409" font-size="10.2" text-anchor="end" textLength="11.5" lengthAdjust="spacingAndGlyphs">40</text>
<line x1="472.7" y1="281.2" x2="475.3" y2="281.2" stroke="#231f20" stroke-width="0.7"/>
<text x="468.8" y="284.409" font-size="10.2" text-anchor="end" textLength="11.5" lengthAdjust="spacingAndGlyphs">60</text>
<line x1="472.7" y1="258.2" x2="475.3" y2="258.2" stroke="#231f20" stroke-width="0.7"/>
<text x="468.8" y="261.409" font-size="10.2" text-anchor="end" textLength="11.5" lengthAdjust="spacingAndGlyphs">80</text>
<line x1="472.7" y1="235.2" x2="475.3" y2="235.2" stroke="#231f20" stroke-width="0.7"/>
<text x="468.8" y="238.409" font-size="10.2" text-anchor="end" textLength="17.4" lengthAdjust="spacingAndGlyphs">100</text>
<line x1="472.7" y1="212.2" x2="475.3" y2="212.2" stroke="#231f20" stroke-width="0.7"/>
<text x="468.8" y="215.409" font-size="10.2" text-anchor="end" textLength="17.4" lengthAdjust="spacingAndGlyphs">120</text>
<text x="472.5" y="360.8" font-size="10.2" text-anchor="middle" textLength="5.7" lengthAdjust="spacingAndGlyphs">0</text>
<text x="495.2" y="360.8" font-size="10.2" text-anchor="middle" textLength="5.7" lengthAdjust="spacingAndGlyphs">1</text>
<text x="556.3" y="360.8" font-size="10.2" text-anchor="middle" textLength="5.7" lengthAdjust="spacingAndGlyphs">3</text>
<text x="617.6" y="360.8" font-size="10.2" text-anchor="middle" textLength="5.7" lengthAdjust="spacingAndGlyphs">5</text>
<text x="553.8" y="369.2" font-size="10.8" text-anchor="middle" textLength="35.7" lengthAdjust="spacingAndGlyphs">Time (s)</text>
<text transform="translate(450.6,281.6) rotate(-90)" font-size="10.8" text-anchor="middle" textLength="62" lengthAdjust="spacingAndGlyphs">Frequency (Hz)</text>
<svg x="49" y="373" width="167" height="144" viewBox="0 0 685 590.659" preserveAspectRatio="none" overflow="hidden">
<g filter="url(#cmz)">
<rect x="-50" y="-50" width="785" height="690.659" fill="#363636"/>
<rect x="-40" y="-40" width="335" height="245" fill="#4c4c4c" filter="url(#b16)"/>
<rect x="335" y="-40" width="150" height="235" fill="#474747" filter="url(#b14)"/>
<rect x="-40" y="-40" width="120" height="250" fill="#555555" filter="url(#b14)"/>
<ellipse cx="15" cy="90" rx="32" ry="135" fill="#5e5e5e" filter="url(#b14)"/>
<ellipse cx="118" cy="100" rx="22" ry="135" fill="#636363" filter="url(#b12)"/>
<ellipse cx="215" cy="90" rx="24" ry="125" fill="#5e5e5e" filter="url(#b12)"/>
<ellipse cx="265" cy="60" rx="22" ry="95" fill="#555555" filter="url(#b12)"/>
<ellipse cx="170" cy="60" rx="16" ry="105" fill="#575757" filter="url(#b10)"/>
<ellipse cx="365" cy="90" rx="14" ry="130" fill="#626262" filter="url(#b9)"/>
<ellipse cx="455" cy="90" rx="20" ry="130" fill="#666666" filter="url(#b10)"/>
<polygon points="598,-40 725,-40 725,295 658,285 606,215" fill="#636363" filter="url(#b14)"/>
<ellipse cx="650" cy="145" rx="24" ry="65" fill="#757575" filter="url(#b12)"/>
<polygon points="-40,190 55,200 75,300 65,360 125,430 -40,440" fill="#666666" filter="url(#b14)"/>
<ellipse cx="0" cy="245" rx="32" ry="34" fill="#878787" filter="url(#b12)"/>
<ellipse cx="10" cy="395" rx="36" ry="34" fill="#7d7d7d" filter="url(#b12)"/>
<polygon points="75,340 145,272 220,232 300,208 420,218 560,218 640,272 725,300 725,420 640,450 600,445 420,445 370,480 320,455 200,440 115,410" fill="#0d0d0d" filter="url(#b12)"/>
<polygon points="-40,410 60,426 150,442 250,448 320,458 370,484 410,458 440,443 560,443 600,453 625,464 660,428 725,397 725,700 -40,700" fill="#d2d2d2" filter="url(#b15)"/>
</g></svg>
<rect x="48.5" y="516.8" width="167.5" height="1.9" fill="#a9a9ad"/>
<line x1="71.5" y1="373" x2="71.5" y2="518.5" stroke="#1a1a1a" stroke-width="0.7" stroke-dasharray="1.1 1.1"/>
<line x1="86.6" y1="373" x2="86.6" y2="518.5" stroke="#1a1a1a" stroke-width="0.7" stroke-dasharray="1.1 1.1"/>
<line x1="132" y1="373" x2="132" y2="518.5" stroke="#1a1a1a" stroke-width="0.7" stroke-dasharray="1.1 1.1"/>
<line x1="147.1" y1="373" x2="147.1" y2="518.5" stroke="#1a1a1a" stroke-width="0.7" stroke-dasharray="1.1 1.1"/>
<line x1="193.2" y1="373" x2="193.2" y2="518.5" stroke="#1a1a1a" stroke-width="0.7" stroke-dasharray="1.1 1.1"/>
<rect x="48" y="371.8" width="1" height="146.9" fill="#2a2628"/>
<text x="44.8" y="523.009" font-size="10.2" text-anchor="end" textLength="5.7" lengthAdjust="spacingAndGlyphs">0</text>
<line x1="48.7" y1="496.2" x2="51.3" y2="496.2" stroke="#231f20" stroke-width="0.7"/>
<text x="44.8" y="499.409" font-size="10.2" text-anchor="end" textLength="11.5" lengthAdjust="spacingAndGlyphs">20</text>
<line x1="48.7" y1="473.2" x2="51.3" y2="473.2" stroke="#231f20" stroke-width="0.7"/>
<text x="44.8" y="476.409" font-size="10.2" text-anchor="end" textLength="11.5" lengthAdjust="spacingAndGlyphs">40</text>
<line x1="48.7" y1="450.2" x2="51.3" y2="450.2" stroke="#231f20" stroke-width="0.7"/>
<text x="44.8" y="453.409" font-size="10.2" text-anchor="end" textLength="11.5" lengthAdjust="spacingAndGlyphs">60</text>
<line x1="48.7" y1="427.2" x2="51.3" y2="427.2" stroke="#231f20" stroke-width="0.7"/>
<text x="44.8" y="430.409" font-size="10.2" text-anchor="end" textLength="11.5" lengthAdjust="spacingAndGlyphs">80</text>
<line x1="48.7" y1="404.2" x2="51.3" y2="404.2" stroke="#231f20" stroke-width="0.7"/>
<text x="44.8" y="407.409" font-size="10.2" text-anchor="end" textLength="17.4" lengthAdjust="spacingAndGlyphs">100</text>
<line x1="48.7" y1="381.2" x2="51.3" y2="381.2" stroke="#231f20" stroke-width="0.7"/>
<text x="44.8" y="384.409" font-size="10.2" text-anchor="end" textLength="17.4" lengthAdjust="spacingAndGlyphs">120</text>
<text x="48.5" y="529.8" font-size="10.2" text-anchor="middle" textLength="5.7" lengthAdjust="spacingAndGlyphs">0</text>
<text x="71.5" y="529.8" font-size="10.2" text-anchor="middle" textLength="5.7" lengthAdjust="spacingAndGlyphs">1</text>
<text x="132" y="529.8" font-size="10.2" text-anchor="middle" textLength="5.7" lengthAdjust="spacingAndGlyphs">3</text>
<text x="193.2" y="529.8" font-size="10.2" text-anchor="middle" textLength="5.7" lengthAdjust="spacingAndGlyphs">5</text>
<text x="129.3" y="538.2" font-size="10.8" text-anchor="middle" textLength="35.7" lengthAdjust="spacingAndGlyphs">Time (s)</text>
<text transform="translate(26.6,450.6) rotate(-90)" font-size="10.8" text-anchor="middle" textLength="62" lengthAdjust="spacingAndGlyphs">Frequency (Hz)</text>
<svg x="259.5" y="373" width="167.5" height="144" viewBox="0 0 685 588.896" preserveAspectRatio="none" overflow="hidden">
<g filter="url(#cmz)">
<rect x="-50" y="-50" width="785" height="688.896" fill="#4c4c4c"/>
<rect x="80" y="-40" width="520" height="75" fill="#444444" filter="url(#b14)"/>
<ellipse cx="315" cy="130" rx="35" ry="80" fill="#575757" filter="url(#b16)"/>
<ellipse cx="430" cy="150" rx="25" ry="60" fill="#595959" filter="url(#b14)"/>
<ellipse cx="180" cy="150" rx="30" ry="80" fill="#545454" filter="url(#b16)"/>
<ellipse cx="540" cy="120" rx="30" ry="70" fill="#525252" filter="url(#b14)"/>
<polygon points="80,180 230,200 215,400 330,440 330,470 80,470" fill="#5c5c5c" filter="url(#b18)"/>
<polygon points="470,350 540,335 600,390 600,450 440,450" fill="#535353" filter="url(#b12)"/>
<polygon points="60,410 330,435 330,480 60,460" fill="#737373" filter="url(#b11)"/>
<polygon points="-40,40 65,40 90,200 85,340 130,440 -40,440" fill="#6e6e6e" filter="url(#b16)"/>
<ellipse cx="28" cy="140" rx="25" ry="75" fill="#7a7a7a" filter="url(#b14)"/>
<ellipse cx="12" cy="375" rx="56" ry="66" fill="#8c8c8c" filter="url(#b12)"/>
<ellipse cx="8" cy="380" rx="38" ry="50" fill="#b0b0b0" filter="url(#b10)"/>
<polygon points="645,-40 725,-40 725,440 665,440 655,300 640,150" fill="#5e5e5e" filter="url(#b12)"/>
<ellipse cx="678" cy="140" rx="20" ry="70" fill="#737373" filter="url(#b12)"/>
<polygon points="225,228 330,217 420,228 520,232 618,200 640,260 646,400 620,428 590,382 540,332 480,347 450,402 420,442 370,470 320,442 280,402 225,392 213,340 240,300" fill="#131313" filter="url(#b13)"/>
<polygon points="-40,420 80,426 200,436 300,446 340,466 370,480 420,462 460,446 540,432 590,442 625,452 650,432 725,416 725,700 -40,700" fill="#d9d9d9" filter="url(#b12)"/>
</g></svg>
<rect x="259" y="516.8" width="168" height="1.9" fill="#a9a9ad"/>
<line x1="282.4" y1="373" x2="282.4" y2="518.5" stroke="#1a1a1a" stroke-width="0.7" stroke-dasharray="1.1 1.1"/>
<line x1="297.5" y1="373" x2="297.5" y2="518.5" stroke="#1a1a1a" stroke-width="0.7" stroke-dasharray="1.1 1.1"/>
<line x1="343.5" y1="373" x2="343.5" y2="518.5" stroke="#1a1a1a" stroke-width="0.7" stroke-dasharray="1.1 1.1"/>
<line x1="358.6" y1="373" x2="358.6" y2="518.5" stroke="#1a1a1a" stroke-width="0.7" stroke-dasharray="1.1 1.1"/>
<line x1="404.6" y1="373" x2="404.6" y2="518.5" stroke="#1a1a1a" stroke-width="0.7" stroke-dasharray="1.1 1.1"/>
<rect x="258" y="371.8" width="1" height="146.9" fill="#2a2628"/>
<text x="255.3" y="523.009" font-size="10.2" text-anchor="end" textLength="5.7" lengthAdjust="spacingAndGlyphs">0</text>
<line x1="259.2" y1="496.2" x2="261.8" y2="496.2" stroke="#231f20" stroke-width="0.7"/>
<text x="255.3" y="499.409" font-size="10.2" text-anchor="end" textLength="11.5" lengthAdjust="spacingAndGlyphs">20</text>
<line x1="259.2" y1="473.2" x2="261.8" y2="473.2" stroke="#231f20" stroke-width="0.7"/>
<text x="255.3" y="476.409" font-size="10.2" text-anchor="end" textLength="11.5" lengthAdjust="spacingAndGlyphs">40</text>
<line x1="259.2" y1="450.2" x2="261.8" y2="450.2" stroke="#231f20" stroke-width="0.7"/>
<text x="255.3" y="453.409" font-size="10.2" text-anchor="end" textLength="11.5" lengthAdjust="spacingAndGlyphs">60</text>
<line x1="259.2" y1="427.2" x2="261.8" y2="427.2" stroke="#231f20" stroke-width="0.7"/>
<text x="255.3" y="430.409" font-size="10.2" text-anchor="end" textLength="11.5" lengthAdjust="spacingAndGlyphs">80</text>
<line x1="259.2" y1="404.2" x2="261.8" y2="404.2" stroke="#231f20" stroke-width="0.7"/>
<text x="255.3" y="407.409" font-size="10.2" text-anchor="end" textLength="17.4" lengthAdjust="spacingAndGlyphs">100</text>
<line x1="259.2" y1="381.2" x2="261.8" y2="381.2" stroke="#231f20" stroke-width="0.7"/>
<text x="255.3" y="384.409" font-size="10.2" text-anchor="end" textLength="17.4" lengthAdjust="spacingAndGlyphs">120</text>
<text x="259" y="529.8" font-size="10.2" text-anchor="middle" textLength="5.7" lengthAdjust="spacingAndGlyphs">0</text>
<text x="282.4" y="529.8" font-size="10.2" text-anchor="middle" textLength="5.7" lengthAdjust="spacingAndGlyphs">1</text>
<text x="343.5" y="529.8" font-size="10.2" text-anchor="middle" textLength="5.7" lengthAdjust="spacingAndGlyphs">3</text>
<text x="404.6" y="529.8" font-size="10.2" text-anchor="middle" textLength="5.7" lengthAdjust="spacingAndGlyphs">5</text>
<text x="340.05" y="538.2" font-size="10.8" text-anchor="middle" textLength="35.7" lengthAdjust="spacingAndGlyphs">Time (s)</text>
<text transform="translate(237.1,450.6) rotate(-90)" font-size="10.8" text-anchor="middle" textLength="62" lengthAdjust="spacingAndGlyphs">Frequency (Hz)</text>
<svg x="473" y="373" width="168" height="144" viewBox="0 0 685 587.143" preserveAspectRatio="none" overflow="hidden">
<g filter="url(#cmz)">
<rect x="-50" y="-50" width="785" height="687.143" fill="#525252"/>
<ellipse cx="20" cy="30" rx="55" ry="55" fill="#454545" filter="url(#b16)"/>
<ellipse cx="215" cy="90" rx="30" ry="110" fill="#5d5d5d" filter="url(#b16)"/>
<ellipse cx="130" cy="60" rx="30" ry="60" fill="#5b5b5b" filter="url(#b14)"/>
<ellipse cx="500" cy="220" rx="40" ry="100" fill="#585858" filter="url(#b16)"/>
<polygon points="260,-40 660,-40 660,90 260,100" fill="#464646" filter="url(#b18)"/>
<ellipse cx="290" cy="60" rx="30" ry="80" fill="#4a4a4a" filter="url(#b14)"/>
<ellipse cx="540" cy="40" rx="30" ry="50" fill="#464646" filter="url(#b14)"/>
<polygon points="-40,90 85,95 140,240 265,320 340,440 -40,440" fill="#707070" filter="url(#b20)"/>
<polygon points="-40,150 60,160 110,280 200,360 200,440 -40,440" fill="#7c7c7c" filter="url(#b18)"/>
<ellipse cx="20" cy="300" rx="40" ry="50" fill="#868686" filter="url(#b14)"/>
<polygon points="655,-40 725,-40 725,440 645,440 668,300" fill="#757575" filter="url(#b11)"/>
<ellipse cx="692" cy="250" rx="22" ry="80" fill="#828282" filter="url(#b10)"/>
<polygon points="415,445 465,390 540,365 595,395 595,440" fill="#757575" filter="url(#b14)"/>
<polygon points="335,-40 420,-40 430,300 425,420 372,462 316,420 312,330 330,250" fill="#3d3d3d" filter="url(#b15)"/>
<ellipse cx="372" cy="300" rx="37" ry="150" fill="#1a1a1a" filter="url(#b13)"/>
<polygon points="585,-40 648,-40 653,380 625,428 592,390" fill="#444444" filter="url(#b13)"/>
<ellipse cx="622" cy="365" rx="20" ry="55" fill="#303030" filter="url(#b11)"/>
<polygon points="-40,322 60,328 95,354 120,380 200,400 280,410 330,430 370,456 420,436 470,406 540,390 590,406 625,420 655,390 725,320 725,700 -40,700" fill="#d2d2d2" filter="url(#b14)"/>
</g></svg>
<rect x="472.5" y="516.8" width="168.5" height="1.9" fill="#a9a9ad"/>
<line x1="495.2" y1="373" x2="495.2" y2="518.5" stroke="#1a1a1a" stroke-width="0.7" stroke-dasharray="1.1 1.1"/>
<line x1="510.4" y1="373" x2="510.4" y2="518.5" stroke="#1a1a1a" stroke-width="0.7" stroke-dasharray="1.1 1.1"/>
<line x1="556.3" y1="373" x2="556.3" y2="518.5" stroke="#1a1a1a" stroke-width="0.7" stroke-dasharray="1.1 1.1"/>
<line x1="571.6" y1="373" x2="571.6" y2="518.5" stroke="#1a1a1a" stroke-width="0.7" stroke-dasharray="1.1 1.1"/>
<line x1="617.6" y1="373" x2="617.6" y2="518.5" stroke="#1a1a1a" stroke-width="0.7" stroke-dasharray="1.1 1.1"/>
<rect x="472" y="371.8" width="1" height="146.9" fill="#2a2628"/>
<text x="468.8" y="523.009" font-size="10.2" text-anchor="end" textLength="5.7" lengthAdjust="spacingAndGlyphs">0</text>
<line x1="472.7" y1="496.2" x2="475.3" y2="496.2" stroke="#231f20" stroke-width="0.7"/>
<text x="468.8" y="499.409" font-size="10.2" text-anchor="end" textLength="11.5" lengthAdjust="spacingAndGlyphs">20</text>
<line x1="472.7" y1="473.2" x2="475.3" y2="473.2" stroke="#231f20" stroke-width="0.7"/>
<text x="468.8" y="476.409" font-size="10.2" text-anchor="end" textLength="11.5" lengthAdjust="spacingAndGlyphs">40</text>
<line x1="472.7" y1="450.2" x2="475.3" y2="450.2" stroke="#231f20" stroke-width="0.7"/>
<text x="468.8" y="453.409" font-size="10.2" text-anchor="end" textLength="11.5" lengthAdjust="spacingAndGlyphs">60</text>
<line x1="472.7" y1="427.2" x2="475.3" y2="427.2" stroke="#231f20" stroke-width="0.7"/>
<text x="468.8" y="430.409" font-size="10.2" text-anchor="end" textLength="11.5" lengthAdjust="spacingAndGlyphs">80</text>
<line x1="472.7" y1="404.2" x2="475.3" y2="404.2" stroke="#231f20" stroke-width="0.7"/>
<text x="468.8" y="407.409" font-size="10.2" text-anchor="end" textLength="17.4" lengthAdjust="spacingAndGlyphs">100</text>
<line x1="472.7" y1="381.2" x2="475.3" y2="381.2" stroke="#231f20" stroke-width="0.7"/>
<text x="468.8" y="384.409" font-size="10.2" text-anchor="end" textLength="17.4" lengthAdjust="spacingAndGlyphs">120</text>
<text x="472.5" y="529.8" font-size="10.2" text-anchor="middle" textLength="5.7" lengthAdjust="spacingAndGlyphs">0</text>
<text x="495.2" y="529.8" font-size="10.2" text-anchor="middle" textLength="5.7" lengthAdjust="spacingAndGlyphs">1</text>
<text x="556.3" y="529.8" font-size="10.2" text-anchor="middle" textLength="5.7" lengthAdjust="spacingAndGlyphs">3</text>
<text x="617.6" y="529.8" font-size="10.2" text-anchor="middle" textLength="5.7" lengthAdjust="spacingAndGlyphs">5</text>
<text x="553.8" y="538.2" font-size="10.8" text-anchor="middle" textLength="35.7" lengthAdjust="spacingAndGlyphs">Time (s)</text>
<text transform="translate(450.6,450.6) rotate(-90)" font-size="10.8" text-anchor="middle" textLength="62" lengthAdjust="spacingAndGlyphs">Frequency (Hz)</text>
<svg x="47" y="576.5" width="171" height="147" viewBox="0 0 685 588.86" preserveAspectRatio="none" overflow="hidden">
<g filter="url(#cmz)">
<rect x="-50" y="-50" width="785" height="688.86" fill="#858585"/>
<rect x="-40" y="-40" width="770" height="58" fill="#808080" filter="url(#b12)"/>
<polygon points="-40,-40 45,-40 40,300 60,440 -40,440" fill="#757575" filter="url(#b14)"/>
<ellipse cx="-5" cy="300" rx="22" ry="120" fill="#6b6b6b" filter="url(#b12)"/>
<ellipse cx="-5" cy="375" rx="25" ry="35" fill="#5c5c5c" filter="url(#b12)"/>
<polygon points="50,30 590,30 585,362 55,362" fill="#999999" filter="url(#b20)"/>
<rect x="-40" y="-40" width="770" height="62" fill="#7a7a7a" filter="url(#b9)"/>
<polygon points="100,52 525,52 525,300 490,350 450,315 400,350 360,315 290,355 230,350 200,315 160,345 105,300" fill="#ababab" filter="url(#b15)"/>
<ellipse cx="290" cy="25" rx="28" ry="30" fill="#ababab" filter="url(#b10)"/>
<ellipse cx="470" cy="25" rx="40" ry="28" fill="#ababab" filter="url(#b10)"/>
<ellipse cx="180" cy="30" rx="25" ry="22" fill="#a6a6a6" filter="url(#b10)"/>
<ellipse cx="380" cy="110" rx="48" ry="52" fill="#bfbfbf" filter="url(#b15)"/>
<ellipse cx="262" cy="262" rx="42" ry="44" fill="#bfbfbf" filter="url(#b14)"/>
<ellipse cx="140" cy="110" rx="35" ry="35" fill="#b5b5b5" filter="url(#b12)"/>
<ellipse cx="215" cy="105" rx="30" ry="30" fill="#b8b8b8" filter="url(#b12)"/>
<ellipse cx="480" cy="120" rx="30" ry="40" fill="#b5b5b5" filter="url(#b12)"/>
<ellipse cx="450" cy="250" rx="35" ry="30" fill="#b9b9b9" filter="url(#b12)"/>
<ellipse cx="150" cy="255" rx="30" ry="30" fill="#b5b5b5" filter="url(#b12)"/>
<ellipse cx="320" cy="190" rx="40" ry="20" fill="#a6a6a6" filter="url(#b12)"/>
<ellipse cx="182" cy="338" rx="14" ry="18" fill="#949494" filter="url(#b8)"/>
<ellipse cx="330" cy="340" rx="14" ry="16" fill="#969696" filter="url(#b8)"/>
<ellipse cx="426" cy="338" rx="14" ry="18" fill="#949494" filter="url(#b8)"/>
<ellipse cx="140" cy="185" rx="25" ry="18" fill="#a6a6a6" filter="url(#b10)"/>
<ellipse cx="485" cy="200" rx="25" ry="20" fill="#a6a6a6" filter="url(#b10)"/>
<rect x="100" y="205" width="430" height="14" fill="#a3a3a3" filter="url(#b7)" opacity="0.6"/>
<rect x="100" y="285" width="430" height="10" fill="#a1a1a1" filter="url(#b6)" opacity="0.5"/>
<rect x="60" y="356" width="520" height="32" fill="#7a7a7a" filter="url(#b11)"/>
<ellipse cx="200" cy="372" rx="60" ry="14" fill="#737373" filter="url(#b9)"/>
<polygon points="580,100 725,60 725,440 605,440 590,300" fill="#757575" filter="url(#b18)"/>
<polygon points="640,180 725,160 725,440 645,440" fill="#626262" filter="url(#b14)"/>
<ellipse cx="682" cy="350" rx="28" ry="45" fill="#333333" filter="url(#b12)"/>
<polygon points="-40,478 0,438 20,421 60,405 150,392 260,385 400,385 520,392 600,404 650,419 675,445 690,478 725,518 725,700 -40,700" fill="#d9d9d9" filter="url(#b10)"/>
</g></svg>
<rect x="46.5" y="723.3" width="171.5" height="1.9" fill="#a9a9ad"/>
<line x1="70.5" y1="576.5" x2="70.5" y2="725" stroke="#1a1a1a" stroke-width="0.7" stroke-dasharray="1.1 1.1"/>
<line x1="85.5" y1="576.5" x2="85.5" y2="725" stroke="#1a1a1a" stroke-width="0.7" stroke-dasharray="1.1 1.1"/>
<line x1="132.6" y1="576.5" x2="132.6" y2="725" stroke="#1a1a1a" stroke-width="0.7" stroke-dasharray="1.1 1.1"/>
<line x1="148.1" y1="576.5" x2="148.1" y2="725" stroke="#1a1a1a" stroke-width="0.7" stroke-dasharray="1.1 1.1"/>
<line x1="194.6" y1="576.5" x2="194.6" y2="725" stroke="#1a1a1a" stroke-width="0.7" stroke-dasharray="1.1 1.1"/>
<rect x="46" y="575.3" width="1" height="149.9" fill="#8c8c8c"/>
<text x="41.1" y="729.35" font-size="10.9" text-anchor="end" textLength="5.8" lengthAdjust="spacingAndGlyphs">0</text>
<line x1="46.7" y1="701.8" x2="49.3" y2="701.8" stroke="#231f20" stroke-width="0.7"/>
<text x="41.1" y="705.25" font-size="10.9" text-anchor="end" textLength="11.6" lengthAdjust="spacingAndGlyphs">20</text>
<line x1="46.7" y1="678.3" x2="49.3" y2="678.3" stroke="#231f20" stroke-width="0.7"/>
<text x="41.1" y="681.75" font-size="10.9" text-anchor="end" textLength="11.6" lengthAdjust="spacingAndGlyphs">40</text>
<line x1="46.7" y1="654.8" x2="49.3" y2="654.8" stroke="#231f20" stroke-width="0.7"/>
<text x="41.1" y="658.25" font-size="10.9" text-anchor="end" textLength="11.6" lengthAdjust="spacingAndGlyphs">60</text>
<line x1="46.7" y1="631.3" x2="49.3" y2="631.3" stroke="#231f20" stroke-width="0.7"/>
<text x="41.1" y="634.75" font-size="10.9" text-anchor="end" textLength="11.6" lengthAdjust="spacingAndGlyphs">80</text>
<line x1="46.7" y1="607.8" x2="49.3" y2="607.8" stroke="#231f20" stroke-width="0.7"/>
<text x="41.1" y="611.25" font-size="10.9" text-anchor="end" textLength="17.2" lengthAdjust="spacingAndGlyphs">100</text>
<line x1="46.7" y1="584.3" x2="49.3" y2="584.3" stroke="#231f20" stroke-width="0.7"/>
<text x="41.1" y="587.75" font-size="10.9" text-anchor="end" textLength="17.2" lengthAdjust="spacingAndGlyphs">120</text>
<text x="46.5" y="735.5" font-size="10.2" text-anchor="middle" textLength="5.7" lengthAdjust="spacingAndGlyphs">0</text>
<text x="70.5" y="735.5" font-size="10.2" text-anchor="middle" textLength="5.7" lengthAdjust="spacingAndGlyphs">1</text>
<text x="132.6" y="735.5" font-size="10.2" text-anchor="middle" textLength="5.7" lengthAdjust="spacingAndGlyphs">3</text>
<text x="194.6" y="735.5" font-size="10.2" text-anchor="middle" textLength="5.7" lengthAdjust="spacingAndGlyphs">5</text>
<text x="128.4" y="746.5" font-size="10.8" text-anchor="middle" textLength="35.7" lengthAdjust="spacingAndGlyphs">Time (s)</text>
<text transform="translate(21.7,653.7) rotate(-90)" font-size="10.8" text-anchor="middle" textLength="62" lengthAdjust="spacingAndGlyphs">Frequency (Hz)</text>
<svg x="258.75" y="576.5" width="168.55" height="147" viewBox="0 0 685 597.419" preserveAspectRatio="none" overflow="hidden">
<g filter="url(#cmz)">
<rect x="-50" y="-50" width="785" height="697.419" fill="#595959"/>
<rect x="90" y="22" width="540" height="90" fill="#6a6a6a" filter="url(#b18)"/>
<ellipse cx="366" cy="70" rx="24" ry="36" fill="#808080" filter="url(#b12)"/>
<ellipse cx="520" cy="85" rx="45" ry="25" fill="#737373" filter="url(#b12)"/>
<ellipse cx="240" cy="70" rx="45" ry="25" fill="#707070" filter="url(#b12)"/>
<ellipse cx="660" cy="60" rx="40" ry="60" fill="#616161" filter="url(#b14)"/>
<ellipse cx="30" cy="170" rx="40" ry="50" fill="#545454" filter="url(#b16)"/>
<ellipse cx="100" cy="200" rx="40" ry="60" fill="#616161" filter="url(#b16)"/>
<polygon points="150,240 620,230 640,410 250,415 160,340" fill="#4c4c4c" filter="url(#b24)"/>
<ellipse cx="180" cy="285" rx="25" ry="55" fill="#4b4b4b" filter="url(#b14)"/>
<ellipse cx="292" cy="290" rx="25" ry="55" fill="#4a4a4a" filter="url(#b14)"/>
<ellipse cx="560" cy="270" rx="30" ry="45" fill="#4a4a4a" filter="url(#b14)"/>
<polygon points="300,300 640,280 660,415 330,415" fill="#494949" filter="url(#b20)"/>
<polygon points="335,325 485,325 560,350 620,400 345,400" fill="#3c3c3c" filter="url(#b18)"/>
<ellipse cx="420" cy="265" rx="35" ry="35" fill="#595959" filter="url(#b14)"/>
<polygon points="-40,290 90,295 140,380 135,480 -40,480" fill="#757575" filter="url(#b16)"/>
<ellipse cx="28" cy="385" rx="50" ry="56" fill="#8f8f8f" filter="url(#b12)"/>
<ellipse cx="28" cy="385" rx="28" ry="34" fill="#b2b2b2" filter="url(#b10)"/>
<polygon points="-40,425 200,412 500,410 640,428 640,500 -40,500" fill="#808080" filter="url(#b14)"/>
<polygon points="725,240 700,290 632,385 668,470 725,540" fill="#262626" filter="url(#b16)"/>
<polygon points="-40,486 60,470 150,472 200,460 300,454 400,454 500,450 580,457 640,472 670,504 725,556 725,700 -40,700" fill="#d9d9d9" filter="url(#b10)"/>
</g></svg>
<rect x="258.25" y="723.3" width="169.05" height="1.9" fill="#a9a9ad"/>
<line x1="281.6" y1="576.5" x2="281.6" y2="725" stroke="#1a1a1a" stroke-width="0.7" stroke-dasharray="1.1 1.1"/>
<line x1="296.8" y1="576.5" x2="296.8" y2="725" stroke="#1a1a1a" stroke-width="0.7" stroke-dasharray="1.1 1.1"/>
<line x1="343.2" y1="576.5" x2="343.2" y2="725" stroke="#1a1a1a" stroke-width="0.7" stroke-dasharray="1.1 1.1"/>
<line x1="358.6" y1="576.5" x2="358.6" y2="725" stroke="#1a1a1a" stroke-width="0.7" stroke-dasharray="1.1 1.1"/>
<line x1="405" y1="576.5" x2="405" y2="725" stroke="#1a1a1a" stroke-width="0.7" stroke-dasharray="1.1 1.1"/>
<rect x="258" y="575.3" width="1" height="149.9" fill="#8c8c8c"/>
<text x="252.85" y="729.35" font-size="10.9" text-anchor="end" textLength="5.8" lengthAdjust="spacingAndGlyphs">0</text>
<line x1="258.45" y1="701.8" x2="261.05" y2="701.8" stroke="#231f20" stroke-width="0.7"/>
<text x="252.85" y="705.25" font-size="10.9" text-anchor="end" textLength="11.6" lengthAdjust="spacingAndGlyphs">20</text>
<line x1="258.45" y1="678.3" x2="261.05" y2="678.3" stroke="#231f20" stroke-width="0.7"/>
<text x="252.85" y="681.75" font-size="10.9" text-anchor="end" textLength="11.6" lengthAdjust="spacingAndGlyphs">40</text>
<line x1="258.45" y1="654.8" x2="261.05" y2="654.8" stroke="#231f20" stroke-width="0.7"/>
<text x="252.85" y="658.25" font-size="10.9" text-anchor="end" textLength="11.6" lengthAdjust="spacingAndGlyphs">60</text>
<line x1="258.45" y1="631.3" x2="261.05" y2="631.3" stroke="#231f20" stroke-width="0.7"/>
<text x="252.85" y="634.75" font-size="10.9" text-anchor="end" textLength="11.6" lengthAdjust="spacingAndGlyphs">80</text>
<line x1="258.45" y1="607.8" x2="261.05" y2="607.8" stroke="#231f20" stroke-width="0.7"/>
<text x="252.85" y="611.25" font-size="10.9" text-anchor="end" textLength="17.2" lengthAdjust="spacingAndGlyphs">100</text>
<line x1="258.45" y1="584.3" x2="261.05" y2="584.3" stroke="#231f20" stroke-width="0.7"/>
<text x="252.85" y="587.75" font-size="10.9" text-anchor="end" textLength="17.2" lengthAdjust="spacingAndGlyphs">120</text>
<text x="258.25" y="735.5" font-size="10.2" text-anchor="middle" textLength="5.7" lengthAdjust="spacingAndGlyphs">0</text>
<text x="281.6" y="735.5" font-size="10.2" text-anchor="middle" textLength="5.7" lengthAdjust="spacingAndGlyphs">1</text>
<text x="343.2" y="735.5" font-size="10.2" text-anchor="middle" textLength="5.7" lengthAdjust="spacingAndGlyphs">3</text>
<text x="405" y="735.5" font-size="10.2" text-anchor="middle" textLength="5.7" lengthAdjust="spacingAndGlyphs">5</text>
<text x="338.925" y="746.5" font-size="10.8" text-anchor="middle" textLength="35.7" lengthAdjust="spacingAndGlyphs">Time (s)</text>
<text transform="translate(233.45,653.7) rotate(-90)" font-size="10.8" text-anchor="middle" textLength="62" lengthAdjust="spacingAndGlyphs">Frequency (Hz)</text>
<svg x="473" y="576.5" width="168.3" height="147" viewBox="0 0 685 598.307" preserveAspectRatio="none" overflow="hidden">
<g filter="url(#cmz)">
<rect x="-50" y="-50" width="785" height="698.307" fill="#757575"/>
<rect x="-40" y="-40" width="770" height="60" fill="#757575" filter="url(#b10)"/>
<polygon points="20,30 635,30 630,150 575,215 110,215 50,150" fill="#888888" filter="url(#b20)"/>
<ellipse cx="225" cy="100" rx="50" ry="60" fill="#a3a3a3" filter="url(#b15)"/>
<ellipse cx="352" cy="90" rx="28" ry="45" fill="#9e9e9e" filter="url(#b12)"/>
<ellipse cx="540" cy="100" rx="72" ry="62" fill="#9c9c9c" filter="url(#b15)"/>
<ellipse cx="540" cy="95" rx="30" ry="30" fill="#adadad" filter="url(#b11)"/>
<ellipse cx="90" cy="80" rx="38" ry="45" fill="#949494" filter="url(#b14)"/>
<ellipse cx="440" cy="110" rx="30" ry="40" fill="#949494" filter="url(#b13)"/>
<rect x="262" y="-40" width="56" height="165" fill="#d2d2d2" filter="url(#b7)"/>
<ellipse cx="290" cy="132" rx="28" ry="16" fill="#acacac" filter="url(#b7)"/>
<ellipse cx="290" cy="225" rx="30" ry="75" fill="#8c8c8c" filter="url(#b13)"/>
<ellipse cx="540" cy="225" rx="28" ry="65" fill="#878787" filter="url(#b13)"/>
<ellipse cx="400" cy="230" rx="60" ry="40" fill="#7d7d7d" filter="url(#b16)"/>
<rect x="-40" y="300" width="770" height="105" fill="#636363" filter="url(#b16)"/>
<ellipse cx="410" cy="355" rx="27" ry="28" fill="#4c4c4c" filter="url(#b11)"/>
<ellipse cx="150" cy="360" rx="27" ry="24" fill="#595959" filter="url(#b11)"/>
<ellipse cx="330" cy="350" rx="20" ry="24" fill="#595959" filter="url(#b10)"/>
<ellipse cx="30" cy="350" rx="27" ry="24" fill="#5c5c5c" filter="url(#b10)"/>
<ellipse cx="560" cy="355" rx="40" ry="22" fill="#5e5e5e" filter="url(#b11)"/>
<ellipse cx="285" cy="350" rx="24" ry="50" fill="#757575" filter="url(#b10)"/>
<polygon points="650,-40 725,-40 725,300 655,300" fill="#696969" filter="url(#b12)"/>
<ellipse cx="690" cy="350" rx="32" ry="80" fill="#262626" filter="url(#b12)"/>
<rect x="-40" y="400" width="680" height="30" fill="#7a7a7a" filter="url(#b9)"/>
<polygon points="-40,476 0,456 40,434 100,434 200,422 300,416 400,424 500,419 590,424 640,444 670,494 725,586 725,700 -40,700" fill="#d9d9d9" filter="url(#b10)"/>
</g></svg>
<rect x="472.5" y="723.3" width="168.8" height="1.9" fill="#a9a9ad"/>
<line x1="495.2" y1="576.5" x2="495.2" y2="725" stroke="#1a1a1a" stroke-width="0.7" stroke-dasharray="1.1 1.1"/>
<line x1="510.8" y1="576.5" x2="510.8" y2="725" stroke="#1a1a1a" stroke-width="0.7" stroke-dasharray="1.1 1.1"/>
<line x1="556.5" y1="576.5" x2="556.5" y2="725" stroke="#1a1a1a" stroke-width="0.7" stroke-dasharray="1.1 1.1"/>
<line x1="572.2" y1="576.5" x2="572.2" y2="725" stroke="#1a1a1a" stroke-width="0.7" stroke-dasharray="1.1 1.1"/>
<line x1="618.5" y1="576.5" x2="618.5" y2="725" stroke="#1a1a1a" stroke-width="0.7" stroke-dasharray="1.1 1.1"/>
<rect x="472" y="575.3" width="1" height="149.9" fill="#8c8c8c"/>
<text x="467.1" y="729.35" font-size="10.9" text-anchor="end" textLength="5.8" lengthAdjust="spacingAndGlyphs">0</text>
<line x1="472.7" y1="701.8" x2="475.3" y2="701.8" stroke="#231f20" stroke-width="0.7"/>
<text x="467.1" y="705.25" font-size="10.9" text-anchor="end" textLength="11.6" lengthAdjust="spacingAndGlyphs">20</text>
<line x1="472.7" y1="678.3" x2="475.3" y2="678.3" stroke="#231f20" stroke-width="0.7"/>
<text x="467.1" y="681.75" font-size="10.9" text-anchor="end" textLength="11.6" lengthAdjust="spacingAndGlyphs">40</text>
<line x1="472.7" y1="654.8" x2="475.3" y2="654.8" stroke="#231f20" stroke-width="0.7"/>
<text x="467.1" y="658.25" font-size="10.9" text-anchor="end" textLength="11.6" lengthAdjust="spacingAndGlyphs">60</text>
<line x1="472.7" y1="631.3" x2="475.3" y2="631.3" stroke="#231f20" stroke-width="0.7"/>
<text x="467.1" y="634.75" font-size="10.9" text-anchor="end" textLength="11.6" lengthAdjust="spacingAndGlyphs">80</text>
<line x1="472.7" y1="607.8" x2="475.3" y2="607.8" stroke="#231f20" stroke-width="0.7"/>
<text x="467.1" y="611.25" font-size="10.9" text-anchor="end" textLength="17.2" lengthAdjust="spacingAndGlyphs">100</text>
<line x1="472.7" y1="584.3" x2="475.3" y2="584.3" stroke="#231f20" stroke-width="0.7"/>
<text x="467.1" y="587.75" font-size="10.9" text-anchor="end" textLength="17.2" lengthAdjust="spacingAndGlyphs">120</text>
<text x="472.5" y="735.5" font-size="10.2" text-anchor="middle" textLength="5.7" lengthAdjust="spacingAndGlyphs">0</text>
<text x="495.2" y="735.5" font-size="10.2" text-anchor="middle" textLength="5.7" lengthAdjust="spacingAndGlyphs">1</text>
<text x="556.5" y="735.5" font-size="10.2" text-anchor="middle" textLength="5.7" lengthAdjust="spacingAndGlyphs">3</text>
<text x="618.5" y="735.5" font-size="10.2" text-anchor="middle" textLength="5.7" lengthAdjust="spacingAndGlyphs">5</text>
<text x="553.05" y="746.5" font-size="10.8" text-anchor="middle" textLength="35.7" lengthAdjust="spacingAndGlyphs">Time (s)</text>
<text transform="translate(447.7,653.7) rotate(-90)" font-size="10.8" text-anchor="middle" textLength="62" lengthAdjust="spacingAndGlyphs">Frequency (Hz)</text>
<svg x="47" y="750.5" width="171" height="147" viewBox="0 0 685 588.86" preserveAspectRatio="none" overflow="hidden">
<g filter="url(#cmz)">
<rect x="-50" y="-50" width="785" height="688.86" fill="#cccccc"/>
<rect x="-40" y="-40" width="680" height="86" fill="#a6a6a6" filter="url(#b10)"/>
<rect x="-40" y="-40" width="520" height="53" fill="#8a8a8a" filter="url(#b7)"/>
<polygon points="-40,-40 95,-40 100,100 88,225 45,300 30,375 -40,380" fill="#acacac" filter="url(#b13)"/>
<ellipse cx="45" cy="95" rx="22" ry="50" fill="#a6a6a6" filter="url(#b11)"/>
<ellipse cx="58" cy="150" rx="12" ry="50" fill="#bdbdbd" filter="url(#b8)"/>
<ellipse cx="5" cy="5" rx="45" ry="22" fill="#808080" filter="url(#b10)"/>
<ellipse cx="270" cy="0" rx="40" ry="14" fill="#878787" filter="url(#b8)"/>
<ellipse cx="400" cy="0" rx="35" ry="12" fill="#8a8a8a" filter="url(#b8)"/>
<ellipse cx="130" cy="0" rx="30" ry="10" fill="#9c9c9c" filter="url(#b8)"/>
<polygon points="270,100 350,100 390,250 385,360 270,360 280,250" fill="#b2b2b2" filter="url(#b18)"/>
<ellipse cx="310" cy="165" rx="38" ry="64" fill="#a8a8a8" filter="url(#b14)"/>
<ellipse cx="330" cy="300" rx="52" ry="74" fill="#a8a8a8" filter="url(#b15)"/>
<ellipse cx="230" cy="120" rx="36" ry="46" fill="#adadad" filter="url(#b13)"/>
<ellipse cx="170" cy="80" rx="30" ry="30" fill="#b2b2b2" filter="url(#b12)"/>
<ellipse cx="545" cy="55" rx="30" ry="30" fill="#a6a6a6" filter="url(#b10)"/>
<ellipse cx="470" cy="60" rx="22" ry="27" fill="#ababab" filter="url(#b10)"/>
<ellipse cx="565" cy="200" rx="15" ry="105" fill="#adadad" filter="url(#b9)"/>
<ellipse cx="250" cy="330" rx="40" ry="30" fill="#b2b2b2" filter="url(#b12)"/>
<rect x="-40" y="374" width="478" height="14" fill="#ababab" filter="url(#b6)"/>
<ellipse cx="125" cy="381" rx="20" ry="10" fill="#878787" filter="url(#b6)"/>
<ellipse cx="378" cy="380" rx="21" ry="12" fill="#828282" filter="url(#b6)"/>
<ellipse cx="322" cy="378" rx="18" ry="9" fill="#999999" filter="url(#b6)"/>
<polygon points="588,20 725,20 725,450 640,400 596,388" fill="#a3a3a3" filter="url(#b11)"/>
<polygon points="638,-40 725,-40 725,450 668,405 642,360" fill="#808080" filter="url(#b10)"/>
<polygon points="666,60 725,40 725,450 694,420 670,370" fill="#606060" filter="url(#b9)"/>
<ellipse cx="696" cy="320" rx="20" ry="85" fill="#1a1a1a" filter="url(#b9)"/>
<ellipse cx="645" cy="15" rx="45" ry="40" fill="#808080" filter="url(#b10)"/>
</g></svg>
<rect x="46.5" y="897.3" width="171.5" height="1.9" fill="#a9a9ad"/>
<line x1="70.5" y1="750.5" x2="70.5" y2="899" stroke="#1a1a1a" stroke-width="0.7" stroke-dasharray="1.1 1.1"/>
<line x1="85.5" y1="750.5" x2="85.5" y2="899" stroke="#1a1a1a" stroke-width="0.7" stroke-dasharray="1.1 1.1"/>
<line x1="132.6" y1="750.5" x2="132.6" y2="899" stroke="#1a1a1a" stroke-width="0.7" stroke-dasharray="1.1 1.1"/>
<line x1="148.1" y1="750.5" x2="148.1" y2="899" stroke="#1a1a1a" stroke-width="0.7" stroke-dasharray="1.1 1.1"/>
<line x1="194.6" y1="750.5" x2="194.6" y2="899" stroke="#1a1a1a" stroke-width="0.7" stroke-dasharray="1.1 1.1"/>
<rect x="46" y="749.3" width="1" height="149.9" fill="#8c8c8c"/>
<text x="41.1" y="903.35" font-size="10.9" text-anchor="end" textLength="5.8" lengthAdjust="spacingAndGlyphs">0</text>
<line x1="46.7" y1="875.8" x2="49.3" y2="875.8" stroke="#231f20" stroke-width="0.7"/>
<text x="41.1" y="879.25" font-size="10.9" text-anchor="end" textLength="11.6" lengthAdjust="spacingAndGlyphs">20</text>
<line x1="46.7" y1="852.3" x2="49.3" y2="852.3" stroke="#231f20" stroke-width="0.7"/>
<text x="41.1" y="855.75" font-size="10.9" text-anchor="end" textLength="11.6" lengthAdjust="spacingAndGlyphs">40</text>
<line x1="46.7" y1="828.8" x2="49.3" y2="828.8" stroke="#231f20" stroke-width="0.7"/>
<text x="41.1" y="832.25" font-size="10.9" text-anchor="end" textLength="11.6" lengthAdjust="spacingAndGlyphs">60</text>
<line x1="46.7" y1="805.3" x2="49.3" y2="805.3" stroke="#231f20" stroke-width="0.7"/>
<text x="41.1" y="808.75" font-size="10.9" text-anchor="end" textLength="11.6" lengthAdjust="spacingAndGlyphs">80</text>
<line x1="46.7" y1="781.8" x2="49.3" y2="781.8" stroke="#231f20" stroke-width="0.7"/>
<text x="41.1" y="785.25" font-size="10.9" text-anchor="end" textLength="17.2" lengthAdjust="spacingAndGlyphs">100</text>
<line x1="46.7" y1="758.3" x2="49.3" y2="758.3" stroke="#231f20" stroke-width="0.7"/>
<text x="41.1" y="761.75" font-size="10.9" text-anchor="end" textLength="17.2" lengthAdjust="spacingAndGlyphs">120</text>
<text x="46.5" y="909.5" font-size="10.2" text-anchor="middle" textLength="5.7" lengthAdjust="spacingAndGlyphs">0</text>
<text x="70.5" y="909.5" font-size="10.2" text-anchor="middle" textLength="5.7" lengthAdjust="spacingAndGlyphs">1</text>
<text x="132.6" y="909.5" font-size="10.2" text-anchor="middle" textLength="5.7" lengthAdjust="spacingAndGlyphs">3</text>
<text x="194.6" y="909.5" font-size="10.2" text-anchor="middle" textLength="5.7" lengthAdjust="spacingAndGlyphs">5</text>
<text x="128.4" y="920.5" font-size="10.8" text-anchor="middle" textLength="35.7" lengthAdjust="spacingAndGlyphs">Time (s)</text>
<text transform="translate(21.7,827.7) rotate(-90)" font-size="10.8" text-anchor="middle" textLength="62" lengthAdjust="spacingAndGlyphs">Frequency (Hz)</text>
<svg x="258.75" y="750.5" width="168.55" height="147" viewBox="0 0 685 597.419" preserveAspectRatio="none" overflow="hidden">
<g filter="url(#cmz)">
<rect x="-50" y="-50" width="785" height="697.419" fill="#828282"/>
<rect x="-40" y="-40" width="770" height="78" fill="#7a7a7a" filter="url(#b12)"/>
<polygon points="95,40 650,40 650,245 95,245" fill="#8f8f8f" filter="url(#b24)"/>
<polygon points="160,60 560,60 560,220 160,220" fill="#919191" filter="url(#b20)"/>
<ellipse cx="190" cy="140" rx="16" ry="80" fill="#9a9a9a" filter="url(#b12)"/>
<ellipse cx="250" cy="150" rx="16" ry="70" fill="#9a9a9a" filter="url(#b12)"/>
<ellipse cx="368" cy="115" rx="22" ry="85" fill="#a2a2a2" filter="url(#b13)"/>
<ellipse cx="450" cy="140" rx="18" ry="80" fill="#9d9d9d" filter="url(#b12)"/>
<ellipse cx="525" cy="150" rx="16" ry="60" fill="#989898" filter="url(#b12)"/>
<rect x="110" y="228" width="545" height="28" fill="#a6a6a6" filter="url(#b11)"/>
<ellipse cx="440" cy="243" rx="40" ry="11" fill="#b5b5b5" filter="url(#b9)"/>
<ellipse cx="200" cy="243" rx="44" ry="10" fill="#b0b0b0" filter="url(#b9)"/>
<rect x="20" y="277" width="640" height="38" fill="#757575" filter="url(#b12)"/>
<ellipse cx="110" cy="300" rx="46" ry="20" fill="#707070" filter="url(#b11)"/>
<polygon points="150,328 430,328 430,410 150,410" fill="#8a8a8a" filter="url(#b15)"/>
<polygon points="425,345 500,326 602,343 624,420 425,420" fill="#adadad" filter="url(#b13)"/>
<ellipse cx="20" cy="370" rx="54" ry="56" fill="#919191" filter="url(#b12)"/>
<ellipse cx="18" cy="372" rx="33" ry="37" fill="#afafaf" filter="url(#b10)"/>
<polygon points="640,-40 725,-40 725,480 660,450 630,300 655,150" fill="#6a6a6a" filter="url(#b14)"/>
<ellipse cx="698" cy="318" rx="30" ry="58" fill="#2d2d2d" filter="url(#b14)"/>
<polygon points="-40,418 80,418 150,413 250,405 350,405 420,398 500,393 590,395 630,418 665,449 725,496 725,700 -40,700" fill="#d9d9d9" filter="url(#b10)"/>
</g></svg>
<rect x="258.25" y="897.3" width="169.05" height="1.9" fill="#a9a9ad"/>
<line x1="281.6" y1="750.5" x2="281.6" y2="899" stroke="#1a1a1a" stroke-width="0.7" stroke-dasharray="1.1 1.1"/>
<line x1="296.8" y1="750.5" x2="296.8" y2="899" stroke="#1a1a1a" stroke-width="0.7" stroke-dasharray="1.1 1.1"/>
<line x1="343.2" y1="750.5" x2="343.2" y2="899" stroke="#1a1a1a" stroke-width="0.7" stroke-dasharray="1.1 1.1"/>
<line x1="358.6" y1="750.5" x2="358.6" y2="899" stroke="#1a1a1a" stroke-width="0.7" stroke-dasharray="1.1 1.1"/>
<line x1="405" y1="750.5" x2="405" y2="899" stroke="#1a1a1a" stroke-width="0.7" stroke-dasharray="1.1 1.1"/>
<rect x="258" y="749.3" width="1" height="149.9" fill="#8c8c8c"/>
<text x="252.85" y="903.35" font-size="10.9" text-anchor="end" textLength="5.8" lengthAdjust="spacingAndGlyphs">0</text>
<line x1="258.45" y1="875.8" x2="261.05" y2="875.8" stroke="#231f20" stroke-width="0.7"/>
<text x="252.85" y="879.25" font-size="10.9" text-anchor="end" textLength="11.6" lengthAdjust="spacingAndGlyphs">20</text>
<line x1="258.45" y1="852.3" x2="261.05" y2="852.3" stroke="#231f20" stroke-width="0.7"/>
<text x="252.85" y="855.75" font-size="10.9" text-anchor="end" textLength="11.6" lengthAdjust="spacingAndGlyphs">40</text>
<line x1="258.45" y1="828.8" x2="261.05" y2="828.8" stroke="#231f20" stroke-width="0.7"/>
<text x="252.85" y="832.25" font-size="10.9" text-anchor="end" textLength="11.6" lengthAdjust="spacingAndGlyphs">60</text>
<line x1="258.45" y1="805.3" x2="261.05" y2="805.3" stroke="#231f20" stroke-width="0.7"/>
<text x="252.85" y="808.75" font-size="10.9" text-anchor="end" textLength="11.6" lengthAdjust="spacingAndGlyphs">80</text>
<line x1="258.45" y1="781.8" x2="261.05" y2="781.8" stroke="#231f20" stroke-width="0.7"/>
<text x="252.85" y="785.25" font-size="10.9" text-anchor="end" textLength="17.2" lengthAdjust="spacingAndGlyphs">100</text>
<line x1="258.45" y1="758.3" x2="261.05" y2="758.3" stroke="#231f20" stroke-width="0.7"/>
<text x="252.85" y="761.75" font-size="10.9" text-anchor="end" textLength="17.2" lengthAdjust="spacingAndGlyphs">120</text>
<text x="258.25" y="909.5" font-size="10.2" text-anchor="middle" textLength="5.7" lengthAdjust="spacingAndGlyphs">0</text>
<text x="281.6" y="909.5" font-size="10.2" text-anchor="middle" textLength="5.7" lengthAdjust="spacingAndGlyphs">1</text>
<text x="343.2" y="909.5" font-size="10.2" text-anchor="middle" textLength="5.7" lengthAdjust="spacingAndGlyphs">3</text>
<text x="405" y="909.5" font-size="10.2" text-anchor="middle" textLength="5.7" lengthAdjust="spacingAndGlyphs">5</text>
<text x="338.925" y="920.5" font-size="10.8" text-anchor="middle" textLength="35.7" lengthAdjust="spacingAndGlyphs">Time (s)</text>
<text transform="translate(233.45,827.7) rotate(-90)" font-size="10.8" text-anchor="middle" textLength="62" lengthAdjust="spacingAndGlyphs">Frequency (Hz)</text>
<svg x="473" y="750.5" width="168.3" height="147" viewBox="0 0 685 598.307" preserveAspectRatio="none" overflow="hidden">
<g filter="url(#cmz)">
<rect x="-50" y="-50" width="785" height="698.307" fill="#6e6e6e"/>
<rect x="-40" y="-40" width="770" height="80" fill="#696969" filter="url(#b14)"/>
<polygon points="-40,-40 110,-40 95,250 40,300 -40,260" fill="#656565" filter="url(#b16)"/>
<polygon points="95,70 650,70 650,250 95,250" fill="#7a7a7a" filter="url(#b22)"/>
<ellipse cx="375" cy="130" rx="18" ry="45" fill="#878787" filter="url(#b12)"/>
<ellipse cx="262" cy="150" rx="35" ry="22" fill="#838383" filter="url(#b13)"/>
<rect x="-40" y="272" width="770" height="40" fill="#666666" filter="url(#b13)"/>
<polygon points="140,330 570,330 570,415 140,415" fill="#787878" filter="url(#b15)"/>
<polygon points="-40,250 10,285 55,365 70,440 -40,440" fill="#808080" filter="url(#b12)"/>
<polygon points="620,-40 725,-40 725,500 650,460 625,300" fill="#626262" filter="url(#b16)"/>
<ellipse cx="700" cy="372" rx="42" ry="62" fill="#303030" filter="url(#b16)"/>
<rect x="-40" y="403" width="690" height="40" fill="#808080" filter="url(#b10)"/>
<polygon points="-40,452 0,442 50,428 110,436 200,423 300,423 380,433 480,428 590,430 630,448 665,478 725,520 725,700 -40,700" fill="#d9d9d9" filter="url(#b10)"/>
</g></svg>
<rect x="472.5" y="897.3" width="168.8" height="1.9" fill="#a9a9ad"/>
<line x1="495.2" y1="750.5" x2="495.2" y2="899" stroke="#1a1a1a" stroke-width="0.7" stroke-dasharray="1.1 1.1"/>
<line x1="510.8" y1="750.5" x2="510.8" y2="899" stroke="#1a1a1a" stroke-width="0.7" stroke-dasharray="1.1 1.1"/>
<line x1="556.5" y1="750.5" x2="556.5" y2="899" stroke="#1a1a1a" stroke-width="0.7" stroke-dasharray="1.1 1.1"/>
<line x1="572.2" y1="750.5" x2="572.2" y2="899" stroke="#1a1a1a" stroke-width="0.7" stroke-dasharray="1.1 1.1"/>
<line x1="618.5" y1="750.5" x2="618.5" y2="899" stroke="#1a1a1a" stroke-width="0.7" stroke-dasharray="1.1 1.1"/>
<rect x="472" y="749.3" width="1" height="149.9" fill="#8c8c8c"/>
<text x="467.1" y="903.35" font-size="10.9" text-anchor="end" textLength="5.8" lengthAdjust="spacingAndGlyphs">0</text>
<line x1="472.7" y1="875.8" x2="475.3" y2="875.8" stroke="#231f20" stroke-width="0.7"/>
<text x="467.1" y="879.25" font-size="10.9" text-anchor="end" textLength="11.6" lengthAdjust="spacingAndGlyphs">20</text>
<line x1="472.7" y1="852.3" x2="475.3" y2="852.3" stroke="#231f20" stroke-width="0.7"/>
<text x="467.1" y="855.75" font-size="10.9" text-anchor="end" textLength="11.6" lengthAdjust="spacingAndGlyphs">40</text>
<line x1="472.7" y1="828.8" x2="475.3" y2="828.8" stroke="#231f20" stroke-width="0.7"/>
<text x="467.1" y="832.25" font-size="10.9" text-anchor="end" textLength="11.6" lengthAdjust="spacingAndGlyphs">60</text>
<line x1="472.7" y1="805.3" x2="475.3" y2="805.3" stroke="#231f20" stroke-width="0.7"/>
<text x="467.1" y="808.75" font-size="10.9" text-anchor="end" textLength="11.6" lengthAdjust="spacingAndGlyphs">80</text>
<line x1="472.7" y1="781.8" x2="475.3" y2="781.8" stroke="#231f20" stroke-width="0.7"/>
<text x="467.1" y="785.25" font-size="10.9" text-anchor="end" textLength="17.2" lengthAdjust="spacingAndGlyphs">100</text>
<line x1="472.7" y1="758.3" x2="475.3" y2="758.3" stroke="#231f20" stroke-width="0.7"/>
<text x="467.1" y="761.75" font-size="10.9" text-anchor="end" textLength="17.2" lengthAdjust="spacingAndGlyphs">120</text>
<text x="472.5" y="909.5" font-size="10.2" text-anchor="middle" textLength="5.7" lengthAdjust="spacingAndGlyphs">0</text>
<text x="495.2" y="909.5" font-size="10.2" text-anchor="middle" textLength="5.7" lengthAdjust="spacingAndGlyphs">1</text>
<text x="556.5" y="909.5" font-size="10.2" text-anchor="middle" textLength="5.7" lengthAdjust="spacingAndGlyphs">3</text>
<text x="618.5" y="909.5" font-size="10.2" text-anchor="middle" textLength="5.7" lengthAdjust="spacingAndGlyphs">5</text>
<text x="553.05" y="920.5" font-size="10.8" text-anchor="middle" textLength="35.7" lengthAdjust="spacingAndGlyphs">Time (s)</text>
<text transform="translate(447.7,827.7) rotate(-90)" font-size="10.8" text-anchor="middle" textLength="62" lengthAdjust="spacingAndGlyphs">Frequency (Hz)</text>
<text x="70.7" y="32.5" font-size="13.2" textLength="70.3" lengthAdjust="spacingAndGlyphs">Selective sites</text>
<text x="70.4" y="572.1" font-size="13.2" textLength="70.3" lengthAdjust="spacingAndGlyphs">Selective sites</text>
<text x="282.5" y="32.5" font-size="13.2" textLength="114.1" lengthAdjust="spacingAndGlyphs">Partially-selective sites</text>
<text x="282.2" y="572.1" font-size="13.2" textLength="114.1" lengthAdjust="spacingAndGlyphs">Partially-selective sites</text>
<text x="492" y="32.5" font-size="13.2" textLength="94.9" lengthAdjust="spacingAndGlyphs">Non-selective sites</text>
<text x="491.7" y="572.1" font-size="13.2" textLength="94.9" lengthAdjust="spacingAndGlyphs">Non-selective sites</text>
<text x="88.6" y="49.6" font-size="13" style="fill:#fff;stroke:none" textLength="81.3" lengthAdjust="spacingAndGlyphs">Posterior-Dorsal</text>
<text x="88.6" y="223.8" font-size="13" style="fill:#fff;stroke:none" textLength="54.8" lengthAdjust="spacingAndGlyphs">Mid-Dorsal</text>
<text x="88.6" y="392" font-size="13" style="fill:#fff;stroke:none" textLength="84.6" lengthAdjust="spacingAndGlyphs">Posterior-Ventral</text>
<text x="88.6" y="596.9" font-size="13" style="fill:#fff;stroke:none" textLength="81.3" lengthAdjust="spacingAndGlyphs">Posterior-Dorsal</text>
<text x="88.6" y="770.9" font-size="13" style="fill:#fff;stroke:none" textLength="54.8" lengthAdjust="spacingAndGlyphs">Mid-Dorsal</text>
<text x="-0.8" y="14.5" font-size="18.5" font-weight="bold" style="fill:#000;stroke:none">a</text>
<text x="54.9" y="14.5" font-size="18.5" font-weight="bold" style="fill:#000;stroke:none" textLength="122.4" lengthAdjust="spacingAndGlyphs">Post-Training</text>
<text x="-0.5" y="555.2" font-size="18.5" font-weight="bold" style="fill:#000;stroke:none">b</text>
<text x="42.3" y="555.2" font-size="18.5" font-weight="bold" style="fill:#000;stroke:none" textLength="114.5" lengthAdjust="spacingAndGlyphs">Pre-Training</text>
<rect x="645" y="441.2" width="9.5" height="150" fill="url(#cb)" stroke="#6b6b6b" stroke-width="0.6"/>
<text x="657.5" y="444.1" font-size="10.2" textLength="5.6" lengthAdjust="spacingAndGlyphs">2</text>
<line x1="652.5" y1="478.7" x2="654.5" y2="478.7" stroke="#231f20" stroke-width="0.6"/>
<text x="657.5" y="481.6" font-size="10.2" textLength="14" lengthAdjust="spacingAndGlyphs">1.5</text>
<line x1="652.5" y1="516.2" x2="654.5" y2="516.2" stroke="#231f20" stroke-width="0.6"/>
<text x="657.5" y="519.1" font-size="10.2" textLength="5.6" lengthAdjust="spacingAndGlyphs">1</text>
<line x1="652.5" y1="553.7" x2="654.5" y2="553.7" stroke="#231f20" stroke-width="0.6"/>
<text x="657.5" y="556.6" font-size="10.2" textLength="14" lengthAdjust="spacingAndGlyphs">0.5</text>
<text x="657.5" y="594.1" font-size="10.2" textLength="5.6" lengthAdjust="spacingAndGlyphs">0</text>
<text transform="translate(676,517) rotate(90)" font-size="10.4" text-anchor="middle" textLength="86" lengthAdjust="spacingAndGlyphs">Power - Baseline (dB)</text>
</svg></body></html>
